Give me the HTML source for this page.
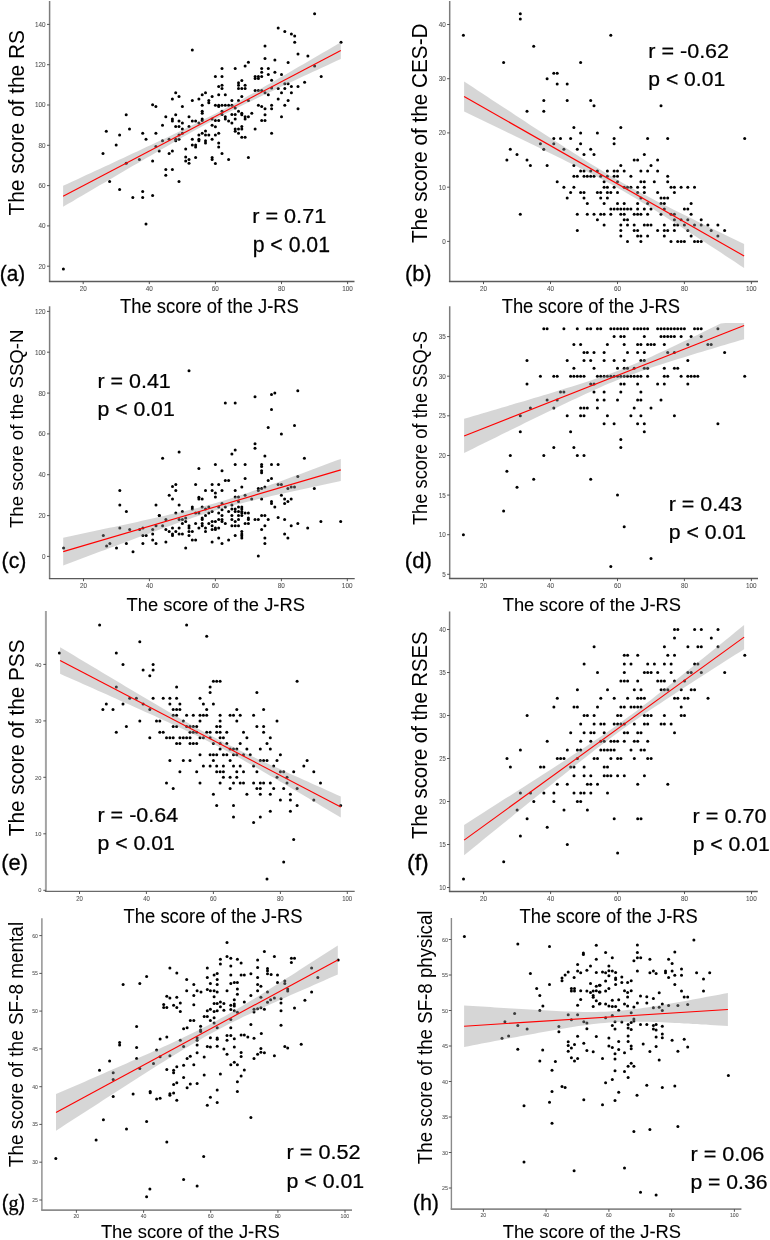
<!DOCTYPE html>
<html><head><meta charset="utf-8"><style>html,body{margin:0;padding:0;background:#fff;width:770px;height:1240px;overflow:hidden}svg{display:block;will-change:transform}</style></head>
<body><svg width="770" height="1240" viewBox="0 0 770 1240">
<rect width="770" height="1240" fill="#fff"/>
<g id="pa"><g fill="#000"><circle cx="192.3" cy="50.1" r="1.5"/><circle cx="175.7" cy="92.7" r="1.5"/><circle cx="179.0" cy="96.4" r="1.5"/><circle cx="172.4" cy="98.9" r="1.5"/><circle cx="192.3" cy="100.4" r="1.5"/><circle cx="198.9" cy="98.9" r="1.5"/><circle cx="152.6" cy="104.8" r="1.5"/><circle cx="155.9" cy="106.6" r="1.5"/><circle cx="182.4" cy="106.6" r="1.5"/><circle cx="314.6" cy="13.7" r="1.5"/><circle cx="278.2" cy="28.1" r="1.5"/><circle cx="284.8" cy="31.6" r="1.5"/><circle cx="291.4" cy="33.9" r="1.5"/><circle cx="294.7" cy="36.0" r="1.5"/><circle cx="294.7" cy="42.2" r="1.5"/><circle cx="341.0" cy="42.2" r="1.5"/><circle cx="265.0" cy="45.9" r="1.5"/><circle cx="298.0" cy="54.1" r="1.5"/><circle cx="307.9" cy="56.1" r="1.5"/><circle cx="265.0" cy="58.4" r="1.5"/><circle cx="274.9" cy="60.1" r="1.5"/><circle cx="288.1" cy="62.4" r="1.5"/><circle cx="248.4" cy="62.2" r="1.5"/><circle cx="245.1" cy="66.1" r="1.5"/><circle cx="314.6" cy="66.1" r="1.5"/><circle cx="222.0" cy="68.4" r="1.5"/><circle cx="235.2" cy="68.4" r="1.5"/><circle cx="261.7" cy="68.4" r="1.5"/><circle cx="268.3" cy="68.4" r="1.5"/><circle cx="261.7" cy="72.3" r="1.5"/><circle cx="274.9" cy="72.3" r="1.5"/><circle cx="268.3" cy="74.4" r="1.5"/><circle cx="281.5" cy="74.4" r="1.5"/><circle cx="215.4" cy="76.5" r="1.5"/><circle cx="222.0" cy="76.5" r="1.5"/><circle cx="255.1" cy="76.5" r="1.5"/><circle cx="258.4" cy="76.5" r="1.5"/><circle cx="261.7" cy="76.5" r="1.5"/><circle cx="255.1" cy="78.6" r="1.5"/><circle cx="258.4" cy="78.6" r="1.5"/><circle cx="321.2" cy="76.5" r="1.5"/><circle cx="271.6" cy="80.2" r="1.5"/><circle cx="241.8" cy="80.6" r="1.5"/><circle cx="238.5" cy="82.7" r="1.5"/><circle cx="238.5" cy="85.2" r="1.5"/><circle cx="245.1" cy="85.2" r="1.5"/><circle cx="222.0" cy="85.2" r="1.5"/><circle cx="218.7" cy="86.5" r="1.5"/><circle cx="238.5" cy="88.5" r="1.5"/><circle cx="241.8" cy="88.5" r="1.5"/><circle cx="245.1" cy="88.5" r="1.5"/><circle cx="222.0" cy="88.5" r="1.5"/><circle cx="304.6" cy="82.3" r="1.5"/><circle cx="284.8" cy="83.8" r="1.5"/><circle cx="288.1" cy="83.8" r="1.5"/><circle cx="291.4" cy="86.5" r="1.5"/><circle cx="298.0" cy="86.5" r="1.5"/><circle cx="255.1" cy="90.6" r="1.5"/><circle cx="261.7" cy="90.6" r="1.5"/><circle cx="258.4" cy="90.6" r="1.5"/><circle cx="271.6" cy="88.1" r="1.5"/><circle cx="278.2" cy="88.5" r="1.5"/><circle cx="284.8" cy="88.5" r="1.5"/><circle cx="265.0" cy="92.7" r="1.5"/><circle cx="268.3" cy="94.8" r="1.5"/><circle cx="281.5" cy="92.7" r="1.5"/><circle cx="291.4" cy="92.7" r="1.5"/><circle cx="205.5" cy="92.7" r="1.5"/><circle cx="202.2" cy="94.8" r="1.5"/><circle cx="212.1" cy="96.4" r="1.5"/><circle cx="218.7" cy="94.8" r="1.5"/><circle cx="225.3" cy="94.8" r="1.5"/><circle cx="241.8" cy="96.4" r="1.5"/><circle cx="248.4" cy="100.6" r="1.5"/><circle cx="238.5" cy="100.6" r="1.5"/><circle cx="231.9" cy="100.6" r="1.5"/><circle cx="208.8" cy="100.6" r="1.5"/><circle cx="208.8" cy="102.7" r="1.5"/><circle cx="278.2" cy="98.9" r="1.5"/><circle cx="288.1" cy="100.6" r="1.5"/><circle cx="202.2" cy="105.2" r="1.5"/><circle cx="215.4" cy="105.2" r="1.5"/><circle cx="218.7" cy="105.2" r="1.5"/><circle cx="222.0" cy="105.2" r="1.5"/><circle cx="225.3" cy="105.2" r="1.5"/><circle cx="228.6" cy="105.2" r="1.5"/><circle cx="231.9" cy="105.2" r="1.5"/><circle cx="258.4" cy="105.2" r="1.5"/><circle cx="261.7" cy="106.6" r="1.5"/><circle cx="271.6" cy="105.2" r="1.5"/><circle cx="284.8" cy="105.2" r="1.5"/><circle cx="235.2" cy="108.1" r="1.5"/><circle cx="265.0" cy="108.7" r="1.5"/><circle cx="271.6" cy="108.7" r="1.5"/><circle cx="298.0" cy="108.7" r="1.5"/><circle cx="218.7" cy="106.6" r="1.5"/><circle cx="126.2" cy="114.8" r="1.5"/><circle cx="106.3" cy="131.2" r="1.5"/><circle cx="119.6" cy="135.1" r="1.5"/><circle cx="129.5" cy="129.1" r="1.5"/><circle cx="116.2" cy="145.1" r="1.5"/><circle cx="103.0" cy="153.4" r="1.5"/><circle cx="142.7" cy="133.3" r="1.5"/><circle cx="146.0" cy="139.3" r="1.5"/><circle cx="155.9" cy="133.3" r="1.5"/><circle cx="162.5" cy="125.2" r="1.5"/><circle cx="165.8" cy="116.8" r="1.5"/><circle cx="172.4" cy="119.1" r="1.5"/><circle cx="172.4" cy="121.0" r="1.5"/><circle cx="175.7" cy="114.8" r="1.5"/><circle cx="179.0" cy="121.0" r="1.5"/><circle cx="182.4" cy="123.1" r="1.5"/><circle cx="175.7" cy="126.6" r="1.5"/><circle cx="179.0" cy="126.6" r="1.5"/><circle cx="182.4" cy="129.1" r="1.5"/><circle cx="189.0" cy="116.8" r="1.5"/><circle cx="192.3" cy="121.0" r="1.5"/><circle cx="195.6" cy="121.0" r="1.5"/><circle cx="198.9" cy="123.1" r="1.5"/><circle cx="189.0" cy="126.6" r="1.5"/><circle cx="182.4" cy="133.3" r="1.5"/><circle cx="179.0" cy="135.1" r="1.5"/><circle cx="175.7" cy="139.3" r="1.5"/><circle cx="175.7" cy="140.7" r="1.5"/><circle cx="179.0" cy="139.3" r="1.5"/><circle cx="169.1" cy="139.3" r="1.5"/><circle cx="162.5" cy="140.7" r="1.5"/><circle cx="155.9" cy="146.6" r="1.5"/><circle cx="159.2" cy="151.1" r="1.5"/><circle cx="169.1" cy="153.4" r="1.5"/><circle cx="172.4" cy="151.1" r="1.5"/><circle cx="185.7" cy="149.1" r="1.5"/><circle cx="192.3" cy="139.3" r="1.5"/><circle cx="192.3" cy="145.1" r="1.5"/><circle cx="195.6" cy="145.1" r="1.5"/><circle cx="195.6" cy="147.0" r="1.5"/><circle cx="198.9" cy="135.1" r="1.5"/><circle cx="198.9" cy="139.3" r="1.5"/><circle cx="198.9" cy="140.7" r="1.5"/><circle cx="185.7" cy="156.9" r="1.5"/><circle cx="185.7" cy="161.1" r="1.5"/><circle cx="189.0" cy="159.4" r="1.5"/><circle cx="189.0" cy="163.2" r="1.5"/><circle cx="195.6" cy="157.4" r="1.5"/><circle cx="152.6" cy="161.1" r="1.5"/><circle cx="139.4" cy="159.4" r="1.5"/><circle cx="126.2" cy="163.2" r="1.5"/><circle cx="165.8" cy="169.4" r="1.5"/><circle cx="172.4" cy="169.4" r="1.5"/><circle cx="165.8" cy="175.2" r="1.5"/><circle cx="179.0" cy="181.5" r="1.5"/><circle cx="109.6" cy="181.5" r="1.5"/><circle cx="119.6" cy="189.4" r="1.5"/><circle cx="142.7" cy="191.4" r="1.5"/><circle cx="142.7" cy="197.5" r="1.5"/><circle cx="132.8" cy="197.5" r="1.5"/><circle cx="152.6" cy="195.6" r="1.5"/><circle cx="202.2" cy="111.2" r="1.5"/><circle cx="202.2" cy="113.3" r="1.5"/><circle cx="202.2" cy="119.1" r="1.5"/><circle cx="202.2" cy="120.6" r="1.5"/><circle cx="212.1" cy="125.2" r="1.5"/><circle cx="215.4" cy="126.8" r="1.5"/><circle cx="205.5" cy="131.0" r="1.5"/><circle cx="202.2" cy="133.3" r="1.5"/><circle cx="208.8" cy="135.1" r="1.5"/><circle cx="205.5" cy="135.1" r="1.5"/><circle cx="205.5" cy="140.7" r="1.5"/><circle cx="205.5" cy="143.0" r="1.5"/><circle cx="212.1" cy="139.3" r="1.5"/><circle cx="218.7" cy="133.3" r="1.5"/><circle cx="215.4" cy="135.1" r="1.5"/><circle cx="212.1" cy="119.1" r="1.5"/><circle cx="215.4" cy="120.6" r="1.5"/><circle cx="218.7" cy="120.6" r="1.5"/><circle cx="222.0" cy="111.2" r="1.5"/><circle cx="222.0" cy="114.4" r="1.5"/><circle cx="225.3" cy="116.8" r="1.5"/><circle cx="225.3" cy="119.1" r="1.5"/><circle cx="228.6" cy="121.0" r="1.5"/><circle cx="231.9" cy="123.1" r="1.5"/><circle cx="231.9" cy="114.4" r="1.5"/><circle cx="235.2" cy="114.4" r="1.5"/><circle cx="235.2" cy="119.1" r="1.5"/><circle cx="238.5" cy="111.2" r="1.5"/><circle cx="241.8" cy="113.3" r="1.5"/><circle cx="241.8" cy="114.8" r="1.5"/><circle cx="245.1" cy="116.8" r="1.5"/><circle cx="245.1" cy="119.1" r="1.5"/><circle cx="248.4" cy="116.8" r="1.5"/><circle cx="251.8" cy="113.3" r="1.5"/><circle cx="235.2" cy="129.1" r="1.5"/><circle cx="235.2" cy="131.2" r="1.5"/><circle cx="238.5" cy="129.1" r="1.5"/><circle cx="238.5" cy="133.3" r="1.5"/><circle cx="241.8" cy="126.6" r="1.5"/><circle cx="241.8" cy="129.1" r="1.5"/><circle cx="241.8" cy="137.2" r="1.5"/><circle cx="245.1" cy="137.2" r="1.5"/><circle cx="255.1" cy="129.1" r="1.5"/><circle cx="261.7" cy="120.6" r="1.5"/><circle cx="265.0" cy="120.6" r="1.5"/><circle cx="265.0" cy="114.8" r="1.5"/><circle cx="271.6" cy="133.3" r="1.5"/><circle cx="281.5" cy="116.8" r="1.5"/><circle cx="218.7" cy="143.0" r="1.5"/><circle cx="218.7" cy="147.0" r="1.5"/><circle cx="222.0" cy="153.4" r="1.5"/><circle cx="212.1" cy="157.4" r="1.5"/><circle cx="212.1" cy="159.4" r="1.5"/><circle cx="215.4" cy="163.4" r="1.5"/><circle cx="228.6" cy="159.4" r="1.5"/><circle cx="248.4" cy="157.4" r="1.5"/><circle cx="146.0" cy="224.1" r="1.5"/><circle cx="63.4" cy="269.0" r="1.5"/></g><polygon points="63.1,185.8 67.7,183.7 72.4,181.5 77.0,179.4 81.6,177.2 86.2,175.1 90.9,173.0 95.5,170.8 100.1,168.7 104.8,166.5 109.4,164.4 114.0,162.2 118.6,160.1 123.3,157.9 127.9,155.8 132.5,153.6 137.2,151.4 141.8,149.3 146.4,147.1 151.0,144.9 155.7,142.8 160.3,140.6 164.9,138.4 169.6,136.2 174.2,134.0 178.8,131.8 183.4,129.5 188.1,127.3 192.7,125.0 197.3,122.8 201.9,120.5 206.6,118.1 211.2,115.8 215.8,113.4 220.5,111.0 225.1,108.5 229.7,106.0 234.3,103.5 239.0,101.0 243.6,98.4 248.2,95.8 252.9,93.2 257.5,90.6 262.1,88.0 266.7,85.3 271.4,82.7 276.0,80.0 280.6,77.3 285.3,74.7 289.9,72.0 294.5,69.3 299.1,66.6 303.8,63.9 308.4,61.2 313.0,58.5 317.7,55.8 322.3,53.1 326.9,50.4 331.5,47.7 336.2,45.0 340.8,42.3 340.8,58.9 336.2,61.1 331.5,63.2 326.9,65.4 322.3,67.5 317.7,69.7 313.0,71.8 308.4,74.0 303.8,76.1 299.1,78.3 294.5,80.5 289.9,82.6 285.3,84.8 280.6,87.0 276.0,89.2 271.4,91.4 266.7,93.6 262.1,95.8 257.5,98.0 252.9,100.2 248.2,102.5 243.6,104.8 239.0,107.1 234.3,109.4 229.7,111.7 225.1,114.1 220.5,116.5 215.8,118.9 211.2,121.4 206.6,123.9 201.9,126.4 197.3,129.0 192.7,131.6 188.1,134.2 183.4,136.8 178.8,139.4 174.2,142.0 169.6,144.7 164.9,147.4 160.3,150.0 155.7,152.7 151.0,155.4 146.4,158.1 141.8,160.8 137.2,163.4 132.5,166.1 127.9,168.8 123.3,171.5 118.6,174.2 114.0,177.0 109.4,179.7 104.8,182.4 100.1,185.1 95.5,187.8 90.9,190.5 86.2,193.2 81.6,195.9 77.0,198.6 72.4,201.4 67.7,204.1 63.1,206.8" fill="#999" fill-opacity="0.4"/><line x1="63.1" y1="196.3" x2="340.8" y2="50.6" stroke="#f00" stroke-width="1.1"/><path d="M49.6,1.0V281.5" fill="none" stroke="#7c7c7c" stroke-width="1.5"/><path d="M48.9,281.5H354.5" fill="none" stroke="#5a5a5a" stroke-width="1.4"/><path d="M47.0,266.2H49.6M47.0,225.9H49.6M47.0,185.6H49.6M47.0,145.3H49.6M47.0,105.0H49.6M47.0,64.7H49.6M47.0,24.4H49.6M83.2,281.5v2.6M149.3,281.5v2.6M215.4,281.5v2.6M281.5,281.5v2.6M347.6,281.5v2.6" stroke="#444" stroke-width="0.9"/><g font-family="Liberation Sans" font-size="100" fill="#525252" stroke="#525252" stroke-width="1"><text transform="translate(38.51,268.65) scale(0.0635,0.0690)">20</text><text transform="translate(38.51,228.35) scale(0.0635,0.0690)">40</text><text transform="translate(38.51,188.05) scale(0.0635,0.0690)">60</text><text transform="translate(38.51,147.75) scale(0.0635,0.0690)">80</text><text transform="translate(34.95,107.45) scale(0.0635,0.0690)">100</text><text transform="translate(34.95,67.15) scale(0.0635,0.0690)">120</text><text transform="translate(34.95,26.85) scale(0.0635,0.0690)">140</text><text transform="translate(79.64,291.05) scale(0.0635,0.0690)">20</text><text transform="translate(145.84,291.05) scale(0.0635,0.0690)">40</text><text transform="translate(211.84,291.05) scale(0.0635,0.0690)">60</text><text transform="translate(277.98,291.05) scale(0.0635,0.0690)">80</text><text transform="translate(342.17,291.05) scale(0.0635,0.0690)">100</text></g><text transform="translate(24.40,215.52) rotate(-90) scale(0.2087,0.2217)" font-family="Liberation Sans" font-size="100" fill="#000" stroke="#000" stroke-width="0.000">The score of the RS</text><text transform="translate(119.98,312.60) scale(0.1840,0.1942)" font-family="Liberation Sans" font-size="100" fill="#000" stroke="#000" stroke-width="0.529">The score of the J-RS</text><text transform="translate(252.21,222.90) scale(0.2165,0.2099)" font-family="Liberation Sans" font-size="100" fill="#000" stroke="#000" stroke-width="1.173">r = 0.71</text><text transform="translate(252.64,251.50) scale(0.2124,0.2141)" font-family="Liberation Sans" font-size="100" fill="#000" stroke="#000" stroke-width="1.172">p &lt; 0.01</text><text transform="translate(-0.25,281.18) scale(0.2082,0.2202)" font-family="Liberation Sans" font-size="100" fill="#000" stroke="#000" stroke-width="1.401">(a)</text></g><g id="pb"><g fill="#000"><circle cx="520.3" cy="13.7" r="1.5"/><circle cx="520.3" cy="19.1" r="1.5"/><circle cx="463.4" cy="35.3" r="1.5"/><circle cx="610.8" cy="35.3" r="1.5"/><circle cx="533.7" cy="46.2" r="1.5"/><circle cx="503.6" cy="62.5" r="1.5"/><circle cx="580.6" cy="62.5" r="1.5"/><circle cx="553.8" cy="73.3" r="1.5"/><circle cx="557.2" cy="73.3" r="1.5"/><circle cx="547.1" cy="78.7" r="1.5"/><circle cx="557.2" cy="84.1" r="1.5"/><circle cx="567.2" cy="84.1" r="1.5"/><circle cx="543.8" cy="100.4" r="1.5"/><circle cx="567.2" cy="100.4" r="1.5"/><circle cx="590.7" cy="100.4" r="1.5"/><circle cx="594.0" cy="105.8" r="1.5"/><circle cx="661.0" cy="105.8" r="1.5"/><circle cx="527.0" cy="111.3" r="1.5"/><circle cx="543.8" cy="111.3" r="1.5"/><circle cx="573.9" cy="127.5" r="1.5"/><circle cx="620.8" cy="127.5" r="1.5"/><circle cx="580.6" cy="132.9" r="1.5"/><circle cx="597.4" cy="132.9" r="1.5"/><circle cx="553.8" cy="138.4" r="1.5"/><circle cx="560.5" cy="138.4" r="1.5"/><circle cx="570.6" cy="138.4" r="1.5"/><circle cx="614.1" cy="138.4" r="1.5"/><circle cx="647.6" cy="138.4" r="1.5"/><circle cx="667.7" cy="138.4" r="1.5"/><circle cx="744.7" cy="138.4" r="1.5"/><circle cx="540.4" cy="143.8" r="1.5"/><circle cx="553.8" cy="143.8" r="1.5"/><circle cx="580.6" cy="143.8" r="1.5"/><circle cx="614.1" cy="143.8" r="1.5"/><circle cx="510.3" cy="149.2" r="1.5"/><circle cx="543.8" cy="149.2" r="1.5"/><circle cx="563.9" cy="149.2" r="1.5"/><circle cx="577.3" cy="149.2" r="1.5"/><circle cx="590.7" cy="149.2" r="1.5"/><circle cx="517.0" cy="154.6" r="1.5"/><circle cx="584.0" cy="154.6" r="1.5"/><circle cx="594.0" cy="154.6" r="1.5"/><circle cx="644.3" cy="154.6" r="1.5"/><circle cx="506.9" cy="160.1" r="1.5"/><circle cx="527.0" cy="160.1" r="1.5"/><circle cx="634.2" cy="160.1" r="1.5"/><circle cx="637.6" cy="160.1" r="1.5"/><circle cx="657.6" cy="160.1" r="1.5"/><circle cx="530.4" cy="165.5" r="1.5"/><circle cx="547.1" cy="165.5" r="1.5"/><circle cx="573.9" cy="165.5" r="1.5"/><circle cx="620.8" cy="165.5" r="1.5"/><circle cx="651.0" cy="165.5" r="1.5"/><circle cx="580.6" cy="170.9" r="1.5"/><circle cx="584.0" cy="170.9" r="1.5"/><circle cx="590.7" cy="170.9" r="1.5"/><circle cx="597.4" cy="170.9" r="1.5"/><circle cx="607.4" cy="170.9" r="1.5"/><circle cx="614.1" cy="170.9" r="1.5"/><circle cx="617.5" cy="170.9" r="1.5"/><circle cx="624.2" cy="170.9" r="1.5"/><circle cx="640.9" cy="170.9" r="1.5"/><circle cx="647.6" cy="170.9" r="1.5"/><circle cx="657.6" cy="170.9" r="1.5"/><circle cx="573.9" cy="176.3" r="1.5"/><circle cx="577.3" cy="176.3" r="1.5"/><circle cx="584.0" cy="176.3" r="1.5"/><circle cx="587.3" cy="176.3" r="1.5"/><circle cx="590.7" cy="176.3" r="1.5"/><circle cx="594.0" cy="176.3" r="1.5"/><circle cx="600.7" cy="176.3" r="1.5"/><circle cx="607.4" cy="176.3" r="1.5"/><circle cx="614.1" cy="176.3" r="1.5"/><circle cx="617.5" cy="176.3" r="1.5"/><circle cx="630.9" cy="176.3" r="1.5"/><circle cx="667.7" cy="176.3" r="1.5"/><circle cx="557.2" cy="181.8" r="1.5"/><circle cx="604.1" cy="181.8" r="1.5"/><circle cx="617.5" cy="181.8" r="1.5"/><circle cx="640.9" cy="181.8" r="1.5"/><circle cx="644.3" cy="181.8" r="1.5"/><circle cx="654.3" cy="181.8" r="1.5"/><circle cx="667.7" cy="181.8" r="1.5"/><circle cx="563.9" cy="187.2" r="1.5"/><circle cx="573.9" cy="187.2" r="1.5"/><circle cx="604.1" cy="187.2" r="1.5"/><circle cx="607.4" cy="187.2" r="1.5"/><circle cx="614.1" cy="187.2" r="1.5"/><circle cx="624.2" cy="187.2" r="1.5"/><circle cx="627.5" cy="187.2" r="1.5"/><circle cx="630.9" cy="187.2" r="1.5"/><circle cx="637.6" cy="187.2" r="1.5"/><circle cx="644.3" cy="187.2" r="1.5"/><circle cx="671.0" cy="187.2" r="1.5"/><circle cx="674.4" cy="187.2" r="1.5"/><circle cx="681.1" cy="187.2" r="1.5"/><circle cx="687.8" cy="187.2" r="1.5"/><circle cx="694.5" cy="187.2" r="1.5"/><circle cx="570.6" cy="192.6" r="1.5"/><circle cx="580.6" cy="192.6" r="1.5"/><circle cx="584.0" cy="192.6" r="1.5"/><circle cx="597.4" cy="192.6" r="1.5"/><circle cx="600.7" cy="192.6" r="1.5"/><circle cx="607.4" cy="192.6" r="1.5"/><circle cx="610.8" cy="192.6" r="1.5"/><circle cx="617.5" cy="192.6" r="1.5"/><circle cx="637.6" cy="192.6" r="1.5"/><circle cx="644.3" cy="192.6" r="1.5"/><circle cx="657.6" cy="192.6" r="1.5"/><circle cx="674.4" cy="192.6" r="1.5"/><circle cx="567.2" cy="198.0" r="1.5"/><circle cx="584.0" cy="198.0" r="1.5"/><circle cx="600.7" cy="198.0" r="1.5"/><circle cx="607.4" cy="198.0" r="1.5"/><circle cx="640.9" cy="198.0" r="1.5"/><circle cx="661.0" cy="198.0" r="1.5"/><circle cx="664.3" cy="198.0" r="1.5"/><circle cx="667.7" cy="198.0" r="1.5"/><circle cx="587.3" cy="203.4" r="1.5"/><circle cx="604.1" cy="203.4" r="1.5"/><circle cx="617.5" cy="203.4" r="1.5"/><circle cx="624.2" cy="203.4" r="1.5"/><circle cx="637.6" cy="203.4" r="1.5"/><circle cx="647.6" cy="203.4" r="1.5"/><circle cx="661.0" cy="203.4" r="1.5"/><circle cx="664.3" cy="203.4" r="1.5"/><circle cx="691.1" cy="203.4" r="1.5"/><circle cx="610.8" cy="208.9" r="1.5"/><circle cx="614.1" cy="208.9" r="1.5"/><circle cx="617.5" cy="208.9" r="1.5"/><circle cx="620.8" cy="208.9" r="1.5"/><circle cx="624.2" cy="208.9" r="1.5"/><circle cx="627.5" cy="208.9" r="1.5"/><circle cx="630.9" cy="208.9" r="1.5"/><circle cx="637.6" cy="208.9" r="1.5"/><circle cx="644.3" cy="208.9" r="1.5"/><circle cx="651.0" cy="208.9" r="1.5"/><circle cx="664.3" cy="208.9" r="1.5"/><circle cx="684.4" cy="208.9" r="1.5"/><circle cx="687.8" cy="208.9" r="1.5"/><circle cx="520.3" cy="214.3" r="1.5"/><circle cx="577.3" cy="214.3" r="1.5"/><circle cx="587.3" cy="214.3" r="1.5"/><circle cx="594.0" cy="214.3" r="1.5"/><circle cx="600.7" cy="214.3" r="1.5"/><circle cx="604.1" cy="214.3" r="1.5"/><circle cx="610.8" cy="214.3" r="1.5"/><circle cx="620.8" cy="214.3" r="1.5"/><circle cx="624.2" cy="214.3" r="1.5"/><circle cx="634.2" cy="214.3" r="1.5"/><circle cx="637.6" cy="214.3" r="1.5"/><circle cx="640.9" cy="214.3" r="1.5"/><circle cx="647.6" cy="214.3" r="1.5"/><circle cx="661.0" cy="214.3" r="1.5"/><circle cx="671.0" cy="214.3" r="1.5"/><circle cx="674.4" cy="214.3" r="1.5"/><circle cx="691.1" cy="214.3" r="1.5"/><circle cx="597.4" cy="219.7" r="1.5"/><circle cx="624.2" cy="219.7" r="1.5"/><circle cx="627.5" cy="219.7" r="1.5"/><circle cx="674.4" cy="219.7" r="1.5"/><circle cx="681.1" cy="219.7" r="1.5"/><circle cx="687.8" cy="219.7" r="1.5"/><circle cx="701.2" cy="219.7" r="1.5"/><circle cx="604.1" cy="225.1" r="1.5"/><circle cx="620.8" cy="225.1" r="1.5"/><circle cx="627.5" cy="225.1" r="1.5"/><circle cx="634.2" cy="225.1" r="1.5"/><circle cx="644.3" cy="225.1" r="1.5"/><circle cx="647.6" cy="225.1" r="1.5"/><circle cx="651.0" cy="225.1" r="1.5"/><circle cx="664.3" cy="225.1" r="1.5"/><circle cx="674.4" cy="225.1" r="1.5"/><circle cx="677.7" cy="225.1" r="1.5"/><circle cx="684.4" cy="225.1" r="1.5"/><circle cx="694.5" cy="225.1" r="1.5"/><circle cx="701.2" cy="225.1" r="1.5"/><circle cx="707.9" cy="225.1" r="1.5"/><circle cx="717.9" cy="225.1" r="1.5"/><circle cx="577.3" cy="230.6" r="1.5"/><circle cx="620.8" cy="230.6" r="1.5"/><circle cx="634.2" cy="230.6" r="1.5"/><circle cx="637.6" cy="230.6" r="1.5"/><circle cx="657.6" cy="230.6" r="1.5"/><circle cx="664.3" cy="230.6" r="1.5"/><circle cx="667.7" cy="230.6" r="1.5"/><circle cx="674.4" cy="230.6" r="1.5"/><circle cx="687.8" cy="230.6" r="1.5"/><circle cx="711.2" cy="230.6" r="1.5"/><circle cx="724.6" cy="230.6" r="1.5"/><circle cx="620.8" cy="236.0" r="1.5"/><circle cx="637.6" cy="236.0" r="1.5"/><circle cx="640.9" cy="236.0" r="1.5"/><circle cx="647.6" cy="236.0" r="1.5"/><circle cx="664.3" cy="236.0" r="1.5"/><circle cx="691.1" cy="236.0" r="1.5"/><circle cx="717.9" cy="236.0" r="1.5"/><circle cx="627.5" cy="241.4" r="1.5"/><circle cx="640.9" cy="241.4" r="1.5"/><circle cx="671.0" cy="241.4" r="1.5"/><circle cx="677.7" cy="241.4" r="1.5"/><circle cx="681.1" cy="241.4" r="1.5"/><circle cx="684.4" cy="241.4" r="1.5"/><circle cx="694.5" cy="241.4" r="1.5"/><circle cx="697.8" cy="241.4" r="1.5"/><circle cx="701.2" cy="241.4" r="1.5"/></g><polygon points="464.1,81.5 468.8,84.6 473.4,87.6 478.1,90.7 482.8,93.8 487.4,96.8 492.1,99.9 496.8,103.0 501.4,106.0 506.1,109.1 510.8,112.1 515.4,115.2 520.1,118.3 524.8,121.3 529.4,124.4 534.1,127.4 538.8,130.4 543.4,133.5 548.1,136.5 552.8,139.5 557.4,142.6 562.1,145.6 566.8,148.6 571.4,151.6 576.1,154.5 580.8,157.5 585.4,160.4 590.1,163.4 594.8,166.3 599.4,169.1 604.1,172.0 608.8,174.8 613.4,177.5 618.1,180.3 622.8,182.9 627.4,185.6 632.1,188.1 636.8,190.7 641.4,193.2 646.1,195.6 650.8,198.1 655.4,200.5 660.1,202.9 664.8,205.2 669.4,207.6 674.1,209.9 678.8,212.2 683.4,214.5 688.1,216.8 692.8,219.1 697.4,221.4 702.1,223.7 706.8,226.0 711.4,228.3 716.1,230.5 720.8,232.8 725.4,235.1 730.1,237.3 734.8,239.6 739.4,241.8 744.1,244.1 744.1,267.9 739.4,264.9 734.8,261.8 730.1,258.7 725.4,255.7 720.8,252.6 716.1,249.6 711.4,246.5 706.8,243.5 702.1,240.4 697.4,237.4 692.8,234.4 688.1,231.4 683.4,228.4 678.8,225.3 674.1,222.4 669.4,219.4 664.8,216.4 660.1,213.4 655.4,210.5 650.8,207.6 646.1,204.7 641.4,201.9 636.8,199.0 632.1,196.3 627.4,193.5 622.8,190.8 618.1,188.2 613.4,185.6 608.8,183.0 604.1,180.5 599.4,178.0 594.8,175.6 590.1,173.2 585.4,170.8 580.8,168.4 576.1,166.1 571.4,163.7 566.8,161.4 562.1,159.1 557.4,156.8 552.8,154.5 548.1,152.2 543.4,149.9 538.8,147.6 534.1,145.3 529.4,143.1 524.8,140.8 520.1,138.5 515.4,136.3 510.8,134.0 506.1,131.8 501.4,129.5 496.8,127.3 492.1,125.0 487.4,122.8 482.8,120.5 478.1,118.3 473.4,116.0 468.8,113.8 464.1,111.5" fill="#999" fill-opacity="0.4"/><line x1="464.1" y1="96.5" x2="744.1" y2="256.0" stroke="#f00" stroke-width="1.1"/><path d="M449.7,1.0V281.5" fill="none" stroke="#7c7c7c" stroke-width="1.5"/><path d="M448.9,281.5H758.0" fill="none" stroke="#5a5a5a" stroke-width="1.4"/><path d="M447.1,241.4H449.7M447.1,187.2H449.7M447.1,132.9H449.7M447.1,78.7H449.7M447.1,24.5H449.7M483.5,281.5v2.6M550.5,281.5v2.6M617.5,281.5v2.6M684.4,281.5v2.6M751.4,281.5v2.6" stroke="#444" stroke-width="0.9"/><g font-family="Liberation Sans" font-size="100" fill="#525252" stroke="#525252" stroke-width="1"><text transform="translate(442.30,243.85) scale(0.0635,0.0690)">0</text><text transform="translate(438.81,189.62) scale(0.0635,0.0690)">10</text><text transform="translate(438.81,135.40) scale(0.0635,0.0690)">20</text><text transform="translate(438.81,81.17) scale(0.0635,0.0690)">30</text><text transform="translate(438.81,26.95) scale(0.0635,0.0690)">40</text><text transform="translate(479.94,291.05) scale(0.0635,0.0690)">20</text><text transform="translate(547.02,291.05) scale(0.0635,0.0690)">40</text><text transform="translate(613.90,291.05) scale(0.0635,0.0690)">60</text><text transform="translate(680.92,291.05) scale(0.0635,0.0690)">80</text><text transform="translate(745.99,291.05) scale(0.0635,0.0690)">100</text></g><text transform="translate(426.80,243.11) rotate(-90) scale(0.2070,0.2145)" font-family="Liberation Sans" font-size="100" fill="#000" stroke="#000" stroke-width="0.000">The score of the CES-D</text><text transform="translate(501.68,312.60) scale(0.1836,0.1942)" font-family="Liberation Sans" font-size="100" fill="#000" stroke="#000" stroke-width="0.529">The score of the J-RS</text><text transform="translate(648.32,57.90) scale(0.2153,0.2099)" font-family="Liberation Sans" font-size="100" fill="#000" stroke="#000" stroke-width="1.176">r = -0.62</text><text transform="translate(648.35,86.10) scale(0.2109,0.2085)" font-family="Liberation Sans" font-size="100" fill="#000" stroke="#000" stroke-width="1.192">p &lt; 0.01</text><text transform="translate(404.89,281.14) scale(0.2182,0.2170)" font-family="Liberation Sans" font-size="100" fill="#000" stroke="#000" stroke-width="1.379">(b)</text></g><g id="pc"><g fill="#000"><circle cx="189.0" cy="370.7" r="1.5"/><circle cx="225.3" cy="402.9" r="1.5"/><circle cx="235.2" cy="402.9" r="1.5"/><circle cx="255.0" cy="396.7" r="1.5"/><circle cx="271.5" cy="394.6" r="1.5"/><circle cx="274.8" cy="393.1" r="1.5"/><circle cx="297.8" cy="390.8" r="1.5"/><circle cx="271.5" cy="409.5" r="1.5"/><circle cx="179.1" cy="452.0" r="1.5"/><circle cx="162.6" cy="458.2" r="1.5"/><circle cx="198.9" cy="468.6" r="1.5"/><circle cx="119.8" cy="490.6" r="1.5"/><circle cx="172.5" cy="486.5" r="1.5"/><circle cx="175.8" cy="484.4" r="1.5"/><circle cx="175.8" cy="490.6" r="1.5"/><circle cx="169.2" cy="495.2" r="1.5"/><circle cx="172.5" cy="498.9" r="1.5"/><circle cx="195.6" cy="484.4" r="1.5"/><circle cx="198.9" cy="497.3" r="1.5"/><circle cx="198.9" cy="498.9" r="1.5"/><circle cx="294.5" cy="425.6" r="1.5"/><circle cx="268.2" cy="427.5" r="1.5"/><circle cx="281.4" cy="434.1" r="1.5"/><circle cx="255.0" cy="443.7" r="1.5"/><circle cx="255.0" cy="448.2" r="1.5"/><circle cx="235.2" cy="449.9" r="1.5"/><circle cx="231.9" cy="454.1" r="1.5"/><circle cx="264.9" cy="456.1" r="1.5"/><circle cx="304.4" cy="458.2" r="1.5"/><circle cx="215.4" cy="464.4" r="1.5"/><circle cx="235.2" cy="464.4" r="1.5"/><circle cx="245.1" cy="464.4" r="1.5"/><circle cx="261.6" cy="464.4" r="1.5"/><circle cx="261.6" cy="466.5" r="1.5"/><circle cx="271.5" cy="464.4" r="1.5"/><circle cx="278.1" cy="464.4" r="1.5"/><circle cx="222.0" cy="470.7" r="1.5"/><circle cx="261.6" cy="470.7" r="1.5"/><circle cx="261.6" cy="472.8" r="1.5"/><circle cx="245.1" cy="478.6" r="1.5"/><circle cx="271.5" cy="478.6" r="1.5"/><circle cx="225.3" cy="480.6" r="1.5"/><circle cx="228.6" cy="480.6" r="1.5"/><circle cx="268.2" cy="480.6" r="1.5"/><circle cx="297.8" cy="476.5" r="1.5"/><circle cx="212.1" cy="484.4" r="1.5"/><circle cx="218.7" cy="484.4" r="1.5"/><circle cx="278.1" cy="484.4" r="1.5"/><circle cx="281.4" cy="484.4" r="1.5"/><circle cx="241.8" cy="486.9" r="1.5"/><circle cx="264.9" cy="486.9" r="1.5"/><circle cx="261.6" cy="488.5" r="1.5"/><circle cx="258.3" cy="488.5" r="1.5"/><circle cx="258.3" cy="490.6" r="1.5"/><circle cx="205.5" cy="490.6" r="1.5"/><circle cx="212.1" cy="490.6" r="1.5"/><circle cx="222.0" cy="490.6" r="1.5"/><circle cx="235.2" cy="490.6" r="1.5"/><circle cx="291.2" cy="486.9" r="1.5"/><circle cx="294.5" cy="486.9" r="1.5"/><circle cx="287.9" cy="488.5" r="1.5"/><circle cx="314.3" cy="488.5" r="1.5"/><circle cx="215.4" cy="493.1" r="1.5"/><circle cx="215.4" cy="496.9" r="1.5"/><circle cx="235.2" cy="496.9" r="1.5"/><circle cx="238.5" cy="496.9" r="1.5"/><circle cx="245.1" cy="495.2" r="1.5"/><circle cx="281.4" cy="495.2" r="1.5"/><circle cx="202.2" cy="498.9" r="1.5"/><circle cx="251.7" cy="498.9" r="1.5"/><circle cx="261.6" cy="498.9" r="1.5"/><circle cx="284.6" cy="498.9" r="1.5"/><circle cx="291.2" cy="498.9" r="1.5"/><circle cx="287.9" cy="501.4" r="1.5"/><circle cx="238.5" cy="501.4" r="1.5"/><circle cx="271.5" cy="501.4" r="1.5"/><circle cx="271.5" cy="503.5" r="1.5"/><circle cx="284.6" cy="503.5" r="1.5"/><circle cx="222.0" cy="503.5" r="1.5"/><circle cx="119.8" cy="505.0" r="1.5"/><circle cx="156.0" cy="505.0" r="1.5"/><circle cx="126.4" cy="511.4" r="1.5"/><circle cx="159.3" cy="515.4" r="1.5"/><circle cx="63.7" cy="548.1" r="1.5"/><circle cx="103.3" cy="535.4" r="1.5"/><circle cx="106.6" cy="546.0" r="1.5"/><circle cx="109.9" cy="543.6" r="1.5"/><circle cx="116.5" cy="548.1" r="1.5"/><circle cx="119.8" cy="527.9" r="1.5"/><circle cx="126.4" cy="543.6" r="1.5"/><circle cx="129.7" cy="529.6" r="1.5"/><circle cx="133.0" cy="551.7" r="1.5"/><circle cx="139.6" cy="529.6" r="1.5"/><circle cx="142.9" cy="527.9" r="1.5"/><circle cx="142.9" cy="535.4" r="1.5"/><circle cx="146.2" cy="535.4" r="1.5"/><circle cx="142.9" cy="543.6" r="1.5"/><circle cx="152.7" cy="529.6" r="1.5"/><circle cx="152.7" cy="533.9" r="1.5"/><circle cx="152.7" cy="540.0" r="1.5"/><circle cx="156.0" cy="525.7" r="1.5"/><circle cx="156.0" cy="543.6" r="1.5"/><circle cx="231.9" cy="505.0" r="1.5"/><circle cx="179.1" cy="505.0" r="1.5"/><circle cx="192.3" cy="506.9" r="1.5"/><circle cx="192.3" cy="508.9" r="1.5"/><circle cx="202.2" cy="506.9" r="1.5"/><circle cx="208.8" cy="506.9" r="1.5"/><circle cx="218.7" cy="506.9" r="1.5"/><circle cx="225.3" cy="506.9" r="1.5"/><circle cx="238.5" cy="506.9" r="1.5"/><circle cx="241.8" cy="506.9" r="1.5"/><circle cx="241.8" cy="508.9" r="1.5"/><circle cx="235.2" cy="508.9" r="1.5"/><circle cx="231.9" cy="508.9" r="1.5"/><circle cx="205.5" cy="508.9" r="1.5"/><circle cx="182.4" cy="511.4" r="1.5"/><circle cx="222.0" cy="509.7" r="1.5"/><circle cx="228.6" cy="511.4" r="1.5"/><circle cx="235.2" cy="511.4" r="1.5"/><circle cx="238.5" cy="511.4" r="1.5"/><circle cx="241.8" cy="511.4" r="1.5"/><circle cx="195.6" cy="513.1" r="1.5"/><circle cx="198.9" cy="513.1" r="1.5"/><circle cx="208.8" cy="513.1" r="1.5"/><circle cx="212.1" cy="511.4" r="1.5"/><circle cx="159.3" cy="515.4" r="1.5"/><circle cx="175.8" cy="513.1" r="1.5"/><circle cx="218.7" cy="513.1" r="1.5"/><circle cx="222.0" cy="515.4" r="1.5"/><circle cx="231.9" cy="515.4" r="1.5"/><circle cx="238.5" cy="515.4" r="1.5"/><circle cx="241.8" cy="513.1" r="1.5"/><circle cx="241.8" cy="515.4" r="1.5"/><circle cx="245.1" cy="513.1" r="1.5"/><circle cx="248.4" cy="513.1" r="1.5"/><circle cx="205.5" cy="515.4" r="1.5"/><circle cx="261.6" cy="515.4" r="1.5"/><circle cx="165.9" cy="519.6" r="1.5"/><circle cx="179.1" cy="519.6" r="1.5"/><circle cx="182.4" cy="519.6" r="1.5"/><circle cx="185.7" cy="517.9" r="1.5"/><circle cx="202.2" cy="517.9" r="1.5"/><circle cx="202.2" cy="519.6" r="1.5"/><circle cx="218.7" cy="519.6" r="1.5"/><circle cx="222.0" cy="519.6" r="1.5"/><circle cx="231.9" cy="519.6" r="1.5"/><circle cx="238.5" cy="519.6" r="1.5"/><circle cx="248.4" cy="517.9" r="1.5"/><circle cx="248.4" cy="519.6" r="1.5"/><circle cx="255.0" cy="519.6" r="1.5"/><circle cx="258.3" cy="519.6" r="1.5"/><circle cx="185.7" cy="521.4" r="1.5"/><circle cx="182.4" cy="523.6" r="1.5"/><circle cx="195.6" cy="523.6" r="1.5"/><circle cx="202.2" cy="523.6" r="1.5"/><circle cx="208.8" cy="523.6" r="1.5"/><circle cx="212.1" cy="521.4" r="1.5"/><circle cx="215.4" cy="521.4" r="1.5"/><circle cx="222.0" cy="521.4" r="1.5"/><circle cx="225.3" cy="523.6" r="1.5"/><circle cx="235.2" cy="521.4" r="1.5"/><circle cx="245.1" cy="523.6" r="1.5"/><circle cx="248.4" cy="523.6" r="1.5"/><circle cx="162.6" cy="525.7" r="1.5"/><circle cx="189.0" cy="525.7" r="1.5"/><circle cx="189.0" cy="527.9" r="1.5"/><circle cx="202.2" cy="525.7" r="1.5"/><circle cx="212.1" cy="525.7" r="1.5"/><circle cx="231.9" cy="525.7" r="1.5"/><circle cx="235.2" cy="525.7" r="1.5"/><circle cx="238.5" cy="525.7" r="1.5"/><circle cx="172.5" cy="527.9" r="1.5"/><circle cx="179.1" cy="527.9" r="1.5"/><circle cx="198.9" cy="527.9" r="1.5"/><circle cx="205.5" cy="527.9" r="1.5"/><circle cx="215.4" cy="527.9" r="1.5"/><circle cx="218.7" cy="527.9" r="1.5"/><circle cx="165.9" cy="529.6" r="1.5"/><circle cx="212.1" cy="529.6" r="1.5"/><circle cx="215.4" cy="529.6" r="1.5"/><circle cx="261.6" cy="529.6" r="1.5"/><circle cx="169.2" cy="531.4" r="1.5"/><circle cx="175.8" cy="531.4" r="1.5"/><circle cx="189.0" cy="531.4" r="1.5"/><circle cx="192.3" cy="531.4" r="1.5"/><circle cx="205.5" cy="531.4" r="1.5"/><circle cx="241.8" cy="531.4" r="1.5"/><circle cx="172.5" cy="533.9" r="1.5"/><circle cx="172.5" cy="535.4" r="1.5"/><circle cx="179.1" cy="533.9" r="1.5"/><circle cx="182.4" cy="533.9" r="1.5"/><circle cx="189.0" cy="535.4" r="1.5"/><circle cx="235.2" cy="535.4" r="1.5"/><circle cx="241.8" cy="533.9" r="1.5"/><circle cx="241.8" cy="535.7" r="1.5"/><circle cx="218.7" cy="537.9" r="1.5"/><circle cx="241.8" cy="537.9" r="1.5"/><circle cx="192.3" cy="540.0" r="1.5"/><circle cx="195.6" cy="540.0" r="1.5"/><circle cx="228.6" cy="540.0" r="1.5"/><circle cx="165.9" cy="542.1" r="1.5"/><circle cx="212.1" cy="542.1" r="1.5"/><circle cx="222.0" cy="543.6" r="1.5"/><circle cx="185.7" cy="548.1" r="1.5"/><circle cx="258.3" cy="556.1" r="1.5"/><circle cx="274.8" cy="507.1" r="1.5"/><circle cx="264.9" cy="515.4" r="1.5"/><circle cx="268.2" cy="519.6" r="1.5"/><circle cx="278.1" cy="517.4" r="1.5"/><circle cx="284.6" cy="519.6" r="1.5"/><circle cx="297.8" cy="523.6" r="1.5"/><circle cx="291.2" cy="525.7" r="1.5"/><circle cx="307.7" cy="527.9" r="1.5"/><circle cx="320.9" cy="521.4" r="1.5"/><circle cx="340.7" cy="521.4" r="1.5"/><circle cx="264.9" cy="525.7" r="1.5"/><circle cx="284.6" cy="533.9" r="1.5"/><circle cx="287.9" cy="537.9" r="1.5"/><circle cx="264.9" cy="537.9" r="1.5"/><circle cx="264.9" cy="543.6" r="1.5"/></g><polygon points="63.2,537.7 67.8,536.7 72.5,535.7 77.1,534.7 81.7,533.8 86.3,532.8 91.0,531.8 95.6,530.8 100.2,529.8 104.8,528.8 109.5,527.8 114.1,526.9 118.7,525.9 123.3,524.9 128.0,523.9 132.6,522.9 137.2,521.9 141.9,520.8 146.5,519.8 151.1,518.8 155.7,517.8 160.4,516.7 165.0,515.7 169.6,514.6 174.2,513.6 178.9,512.5 183.5,511.4 188.1,510.3 192.7,509.1 197.4,508.0 202.0,506.8 206.6,505.6 211.3,504.3 215.9,503.0 220.5,501.6 225.1,500.2 229.8,498.8 234.4,497.3 239.0,495.8 243.6,494.3 248.3,492.7 252.9,491.1 257.5,489.5 262.1,487.9 266.8,486.2 271.4,484.6 276.0,482.9 280.7,481.2 285.3,479.5 289.9,477.8 294.5,476.1 299.2,474.4 303.8,472.7 308.4,471.0 313.0,469.2 317.7,467.5 322.3,465.8 326.9,464.1 331.5,462.3 336.2,460.6 340.8,458.9 340.8,480.9 336.2,481.9 331.5,482.9 326.9,483.9 322.3,484.9 317.7,485.9 313.0,486.9 308.4,487.9 303.8,488.9 299.2,489.9 294.5,490.9 289.9,491.9 285.3,493.0 280.7,494.0 276.0,495.0 271.4,496.1 266.8,497.2 262.1,498.2 257.5,499.3 252.9,500.4 248.3,501.6 243.6,502.7 239.0,503.9 234.4,505.1 229.8,506.3 225.1,507.6 220.5,509.0 215.9,510.3 211.3,511.8 206.6,513.2 202.0,514.7 197.4,516.2 192.7,517.8 188.1,519.4 183.5,521.0 178.9,522.6 174.2,524.3 169.6,525.9 165.0,527.6 160.4,529.3 155.7,531.0 151.1,532.7 146.5,534.4 141.9,536.1 137.2,537.8 132.6,539.5 128.0,541.2 123.3,542.9 118.7,544.7 114.1,546.4 109.5,548.1 104.8,549.9 100.2,551.6 95.6,553.3 91.0,555.1 86.3,556.8 81.7,558.5 77.1,560.3 72.5,562.0 67.8,563.8 63.2,565.5" fill="#999" fill-opacity="0.4"/><line x1="63.2" y1="551.6" x2="340.8" y2="469.9" stroke="#f00" stroke-width="1.1"/><path d="M49.6,306.2V578.6" fill="none" stroke="#7c7c7c" stroke-width="1.5"/><path d="M48.9,578.6H354.7" fill="none" stroke="#5a5a5a" stroke-width="1.4"/><path d="M47.0,556.4H49.6M47.0,515.6H49.6M47.0,474.7H49.6M47.0,433.9H49.6M47.0,393.1H49.6M47.0,352.2H49.6M47.0,311.4H49.6M83.5,578.6v2.6M149.4,578.6v2.6M215.4,578.6v2.6M281.4,578.6v2.6M347.3,578.6v2.6" stroke="#444" stroke-width="0.9"/><g font-family="Liberation Sans" font-size="100" fill="#525252" stroke="#525252" stroke-width="1"><text transform="translate(42.00,558.85) scale(0.0635,0.0690)">0</text><text transform="translate(38.51,518.02) scale(0.0635,0.0690)">20</text><text transform="translate(38.51,477.18) scale(0.0635,0.0690)">40</text><text transform="translate(38.51,436.35) scale(0.0635,0.0690)">60</text><text transform="translate(38.51,395.51) scale(0.0635,0.0690)">80</text><text transform="translate(34.95,354.68) scale(0.0635,0.0690)">100</text><text transform="translate(34.95,313.85) scale(0.0635,0.0690)">120</text><text transform="translate(79.94,588.15) scale(0.0635,0.0690)">20</text><text transform="translate(145.99,588.15) scale(0.0635,0.0690)">40</text><text transform="translate(211.84,588.15) scale(0.0635,0.0690)">60</text><text transform="translate(277.83,588.15) scale(0.0635,0.0690)">80</text><text transform="translate(341.87,588.15) scale(0.0635,0.0690)">100</text></g><text transform="translate(23.10,528.07) rotate(-90) scale(0.1861,0.1913)" font-family="Liberation Sans" font-size="100" fill="#000" stroke="#000" stroke-width="0.000">The score of the SSQ-N</text><text transform="translate(126.58,610.60) scale(0.1835,0.1884)" font-family="Liberation Sans" font-size="100" fill="#000" stroke="#000" stroke-width="0.538">The score of the J-RS</text><text transform="translate(97.42,387.70) scale(0.2147,0.2056)" font-family="Liberation Sans" font-size="100" fill="#000" stroke="#000" stroke-width="1.190">r = 0.41</text><text transform="translate(97.44,415.60) scale(0.2124,0.2000)" font-family="Liberation Sans" font-size="100" fill="#000" stroke="#000" stroke-width="1.213">p &lt; 0.01</text><text transform="translate(1.62,567.95) scale(0.2125,0.2213)" font-family="Liberation Sans" font-size="100" fill="#000" stroke="#000" stroke-width="1.383">(c)</text></g><g id="pd"><g fill="#000"><circle cx="543.8" cy="328.7" r="1.5"/><circle cx="547.1" cy="328.7" r="1.5"/><circle cx="563.9" cy="328.7" r="1.5"/><circle cx="577.3" cy="328.7" r="1.5"/><circle cx="587.3" cy="328.7" r="1.5"/><circle cx="590.7" cy="328.7" r="1.5"/><circle cx="597.4" cy="328.7" r="1.5"/><circle cx="600.7" cy="328.7" r="1.5"/><circle cx="610.8" cy="328.7" r="1.5"/><circle cx="614.1" cy="328.7" r="1.5"/><circle cx="617.5" cy="328.7" r="1.5"/><circle cx="620.8" cy="328.7" r="1.5"/><circle cx="624.2" cy="328.7" r="1.5"/><circle cx="627.5" cy="328.7" r="1.5"/><circle cx="634.2" cy="328.7" r="1.5"/><circle cx="637.6" cy="328.7" r="1.5"/><circle cx="640.9" cy="328.7" r="1.5"/><circle cx="644.3" cy="328.7" r="1.5"/><circle cx="647.6" cy="328.7" r="1.5"/><circle cx="657.6" cy="328.7" r="1.5"/><circle cx="661.0" cy="328.7" r="1.5"/><circle cx="664.3" cy="328.7" r="1.5"/><circle cx="667.7" cy="328.7" r="1.5"/><circle cx="671.0" cy="328.7" r="1.5"/><circle cx="674.4" cy="328.7" r="1.5"/><circle cx="677.7" cy="328.7" r="1.5"/><circle cx="681.1" cy="328.7" r="1.5"/><circle cx="684.4" cy="328.7" r="1.5"/><circle cx="694.5" cy="328.7" r="1.5"/><circle cx="697.8" cy="328.7" r="1.5"/><circle cx="701.2" cy="328.7" r="1.5"/><circle cx="717.9" cy="328.7" r="1.5"/><circle cx="614.1" cy="336.6" r="1.5"/><circle cx="620.8" cy="336.6" r="1.5"/><circle cx="624.2" cy="336.6" r="1.5"/><circle cx="644.3" cy="336.6" r="1.5"/><circle cx="661.0" cy="336.6" r="1.5"/><circle cx="664.3" cy="336.6" r="1.5"/><circle cx="667.7" cy="336.6" r="1.5"/><circle cx="671.0" cy="336.6" r="1.5"/><circle cx="674.4" cy="336.6" r="1.5"/><circle cx="681.1" cy="336.6" r="1.5"/><circle cx="691.1" cy="336.6" r="1.5"/><circle cx="701.2" cy="336.6" r="1.5"/><circle cx="573.9" cy="344.5" r="1.5"/><circle cx="580.6" cy="344.5" r="1.5"/><circle cx="607.4" cy="344.5" r="1.5"/><circle cx="624.2" cy="344.5" r="1.5"/><circle cx="637.6" cy="344.5" r="1.5"/><circle cx="640.9" cy="344.5" r="1.5"/><circle cx="647.6" cy="344.5" r="1.5"/><circle cx="651.0" cy="344.5" r="1.5"/><circle cx="654.3" cy="344.5" r="1.5"/><circle cx="664.3" cy="344.5" r="1.5"/><circle cx="687.8" cy="344.5" r="1.5"/><circle cx="707.9" cy="344.5" r="1.5"/><circle cx="711.2" cy="344.5" r="1.5"/><circle cx="584.0" cy="352.4" r="1.5"/><circle cx="587.3" cy="352.4" r="1.5"/><circle cx="594.0" cy="352.4" r="1.5"/><circle cx="604.1" cy="352.4" r="1.5"/><circle cx="627.5" cy="352.4" r="1.5"/><circle cx="637.6" cy="352.4" r="1.5"/><circle cx="644.3" cy="352.4" r="1.5"/><circle cx="667.7" cy="352.4" r="1.5"/><circle cx="674.4" cy="352.4" r="1.5"/><circle cx="724.6" cy="352.4" r="1.5"/><circle cx="527.0" cy="360.4" r="1.5"/><circle cx="567.2" cy="360.4" r="1.5"/><circle cx="584.0" cy="360.4" r="1.5"/><circle cx="590.7" cy="360.4" r="1.5"/><circle cx="604.1" cy="360.4" r="1.5"/><circle cx="614.1" cy="360.4" r="1.5"/><circle cx="624.2" cy="360.4" r="1.5"/><circle cx="640.9" cy="360.4" r="1.5"/><circle cx="644.3" cy="360.4" r="1.5"/><circle cx="687.8" cy="360.4" r="1.5"/><circle cx="573.9" cy="368.3" r="1.5"/><circle cx="594.0" cy="368.3" r="1.5"/><circle cx="617.5" cy="368.3" r="1.5"/><circle cx="624.2" cy="368.3" r="1.5"/><circle cx="627.5" cy="368.3" r="1.5"/><circle cx="634.2" cy="368.3" r="1.5"/><circle cx="644.3" cy="368.3" r="1.5"/><circle cx="647.6" cy="368.3" r="1.5"/><circle cx="664.3" cy="368.3" r="1.5"/><circle cx="674.4" cy="368.3" r="1.5"/><circle cx="677.7" cy="368.3" r="1.5"/><circle cx="540.4" cy="376.2" r="1.5"/><circle cx="553.8" cy="376.2" r="1.5"/><circle cx="557.2" cy="376.2" r="1.5"/><circle cx="570.6" cy="376.2" r="1.5"/><circle cx="573.9" cy="376.2" r="1.5"/><circle cx="577.3" cy="376.2" r="1.5"/><circle cx="580.6" cy="376.2" r="1.5"/><circle cx="584.0" cy="376.2" r="1.5"/><circle cx="597.4" cy="376.2" r="1.5"/><circle cx="600.7" cy="376.2" r="1.5"/><circle cx="604.1" cy="376.2" r="1.5"/><circle cx="607.4" cy="376.2" r="1.5"/><circle cx="610.8" cy="376.2" r="1.5"/><circle cx="614.1" cy="376.2" r="1.5"/><circle cx="617.5" cy="376.2" r="1.5"/><circle cx="620.8" cy="376.2" r="1.5"/><circle cx="624.2" cy="376.2" r="1.5"/><circle cx="627.5" cy="376.2" r="1.5"/><circle cx="630.9" cy="376.2" r="1.5"/><circle cx="634.2" cy="376.2" r="1.5"/><circle cx="637.6" cy="376.2" r="1.5"/><circle cx="640.9" cy="376.2" r="1.5"/><circle cx="647.6" cy="376.2" r="1.5"/><circle cx="664.3" cy="376.2" r="1.5"/><circle cx="667.7" cy="376.2" r="1.5"/><circle cx="681.1" cy="376.2" r="1.5"/><circle cx="687.8" cy="376.2" r="1.5"/><circle cx="691.1" cy="376.2" r="1.5"/><circle cx="694.5" cy="376.2" r="1.5"/><circle cx="697.8" cy="376.2" r="1.5"/><circle cx="744.7" cy="376.2" r="1.5"/><circle cx="527.0" cy="384.1" r="1.5"/><circle cx="590.7" cy="384.1" r="1.5"/><circle cx="594.0" cy="384.1" r="1.5"/><circle cx="620.8" cy="384.1" r="1.5"/><circle cx="624.2" cy="384.1" r="1.5"/><circle cx="637.6" cy="384.1" r="1.5"/><circle cx="657.6" cy="384.1" r="1.5"/><circle cx="664.3" cy="384.1" r="1.5"/><circle cx="687.8" cy="384.1" r="1.5"/><circle cx="560.5" cy="392.1" r="1.5"/><circle cx="563.9" cy="392.1" r="1.5"/><circle cx="594.0" cy="392.1" r="1.5"/><circle cx="604.1" cy="392.1" r="1.5"/><circle cx="620.8" cy="392.1" r="1.5"/><circle cx="640.9" cy="392.1" r="1.5"/><circle cx="547.1" cy="400.0" r="1.5"/><circle cx="557.2" cy="400.0" r="1.5"/><circle cx="597.4" cy="400.0" r="1.5"/><circle cx="604.1" cy="400.0" r="1.5"/><circle cx="617.5" cy="400.0" r="1.5"/><circle cx="637.6" cy="400.0" r="1.5"/><circle cx="640.9" cy="400.0" r="1.5"/><circle cx="661.0" cy="400.0" r="1.5"/><circle cx="530.4" cy="407.9" r="1.5"/><circle cx="553.8" cy="407.9" r="1.5"/><circle cx="580.6" cy="407.9" r="1.5"/><circle cx="584.0" cy="407.9" r="1.5"/><circle cx="587.3" cy="407.9" r="1.5"/><circle cx="597.4" cy="407.9" r="1.5"/><circle cx="634.2" cy="407.9" r="1.5"/><circle cx="651.0" cy="407.9" r="1.5"/><circle cx="520.3" cy="415.8" r="1.5"/><circle cx="567.2" cy="415.8" r="1.5"/><circle cx="580.6" cy="415.8" r="1.5"/><circle cx="584.0" cy="415.8" r="1.5"/><circle cx="607.4" cy="415.8" r="1.5"/><circle cx="630.9" cy="415.8" r="1.5"/><circle cx="640.9" cy="415.8" r="1.5"/><circle cx="674.4" cy="415.8" r="1.5"/><circle cx="604.1" cy="423.8" r="1.5"/><circle cx="614.1" cy="423.8" r="1.5"/><circle cx="637.6" cy="423.8" r="1.5"/><circle cx="644.3" cy="423.8" r="1.5"/><circle cx="717.9" cy="423.8" r="1.5"/><circle cx="520.3" cy="431.7" r="1.5"/><circle cx="570.6" cy="431.7" r="1.5"/><circle cx="644.3" cy="431.7" r="1.5"/><circle cx="620.8" cy="439.6" r="1.5"/><circle cx="553.8" cy="447.5" r="1.5"/><circle cx="573.9" cy="447.5" r="1.5"/><circle cx="620.8" cy="447.5" r="1.5"/><circle cx="510.3" cy="455.5" r="1.5"/><circle cx="543.8" cy="455.5" r="1.5"/><circle cx="577.3" cy="455.5" r="1.5"/><circle cx="584.0" cy="455.5" r="1.5"/><circle cx="506.9" cy="471.3" r="1.5"/><circle cx="533.7" cy="479.2" r="1.5"/><circle cx="590.7" cy="479.2" r="1.5"/><circle cx="517.0" cy="487.2" r="1.5"/><circle cx="617.5" cy="495.1" r="1.5"/><circle cx="503.6" cy="510.9" r="1.5"/><circle cx="624.2" cy="526.8" r="1.5"/><circle cx="463.4" cy="534.7" r="1.5"/><circle cx="651.0" cy="558.5" r="1.5"/><circle cx="610.8" cy="566.4" r="1.5"/></g><polygon points="464.1,418.8 468.8,417.4 473.4,416.0 478.1,414.7 482.8,413.3 487.4,411.9 492.1,410.5 496.8,409.2 501.4,407.8 506.1,406.4 510.8,405.0 515.4,403.6 520.1,402.3 524.8,400.9 529.4,399.5 534.1,398.1 538.8,396.7 543.4,395.3 548.1,393.9 552.8,392.4 557.4,391.0 562.1,389.6 566.8,388.1 571.4,386.7 576.1,385.2 580.8,383.7 585.4,382.2 590.1,380.7 594.8,379.1 599.4,377.5 604.1,375.9 608.8,374.2 613.4,372.5 618.1,370.7 622.8,368.9 627.4,367.0 632.1,365.1 636.8,363.1 641.4,361.1 646.1,359.0 650.8,356.9 655.4,354.8 660.1,352.6 664.8,350.5 669.4,348.3 674.1,346.1 678.8,343.8 683.4,341.6 688.1,339.4 692.8,337.1 697.4,334.9 702.1,332.6 706.8,330.3 711.4,328.0 716.1,325.8 720.8,323.5 725.4,323.0 730.1,323.0 734.8,323.0 739.4,323.0 744.1,323.0 744.1,339.2 739.4,340.6 734.8,342.0 730.1,343.3 725.4,344.7 720.8,346.1 716.1,347.5 711.4,348.9 706.8,350.3 702.1,351.7 697.4,353.1 692.8,354.5 688.1,356.0 683.4,357.4 678.8,358.8 674.1,360.3 669.4,361.7 664.8,363.2 660.1,364.7 655.4,366.3 650.8,367.8 646.1,369.4 641.4,371.0 636.8,372.7 632.1,374.4 627.4,376.1 622.8,377.9 618.1,379.8 613.4,381.7 608.8,383.6 604.1,385.6 599.4,387.7 594.8,389.8 590.1,391.9 585.4,394.0 580.8,396.2 576.1,398.4 571.4,400.6 566.8,402.8 562.1,405.0 557.4,407.3 552.8,409.5 548.1,411.8 543.4,414.0 538.8,416.3 534.1,418.6 529.4,420.8 524.8,423.1 520.1,425.4 515.4,427.7 510.8,430.0 506.1,432.3 501.4,434.6 496.8,436.9 492.1,439.2 487.4,441.5 482.8,443.8 478.1,446.1 473.4,448.4 468.8,450.7 464.1,453.0" fill="#999" fill-opacity="0.4"/><line x1="464.1" y1="435.9" x2="744.1" y2="325.6" stroke="#f00" stroke-width="1.1"/><path d="M449.7,306.2V578.5" fill="none" stroke="#7c7c7c" stroke-width="1.5"/><path d="M448.9,578.5H758.0" fill="none" stroke="#5a5a5a" stroke-width="1.4"/><path d="M447.1,574.3H449.7M447.1,534.7H449.7M447.1,495.1H449.7M447.1,455.5H449.7M447.1,415.8H449.7M447.1,376.2H449.7M447.1,336.6H449.7M483.5,578.5v2.6M550.5,578.5v2.6M617.5,578.5v2.6M684.4,578.5v2.6M751.4,578.5v2.6" stroke="#444" stroke-width="0.9"/><g font-family="Liberation Sans" font-size="100" fill="#525252" stroke="#525252" stroke-width="1"><text transform="translate(442.36,576.77) scale(0.0635,0.0690)">5</text><text transform="translate(438.81,537.15) scale(0.0635,0.0690)">10</text><text transform="translate(438.81,497.53) scale(0.0635,0.0690)">15</text><text transform="translate(438.81,457.91) scale(0.0635,0.0690)">20</text><text transform="translate(438.81,418.29) scale(0.0635,0.0690)">25</text><text transform="translate(438.81,378.67) scale(0.0635,0.0690)">30</text><text transform="translate(438.81,339.05) scale(0.0635,0.0690)">35</text><text transform="translate(479.94,588.15) scale(0.0635,0.0690)">20</text><text transform="translate(547.02,588.15) scale(0.0635,0.0690)">40</text><text transform="translate(613.90,588.15) scale(0.0635,0.0690)">60</text><text transform="translate(680.92,588.15) scale(0.0635,0.0690)">80</text><text transform="translate(745.99,588.15) scale(0.0635,0.0690)">100</text></g><text transform="translate(426.60,525.07) rotate(-90) scale(0.1829,0.1942)" font-family="Liberation Sans" font-size="100" fill="#000" stroke="#000" stroke-width="0.000">The score of the SSQ-S</text><text transform="translate(502.68,610.60) scale(0.1834,0.1855)" font-family="Liberation Sans" font-size="100" fill="#000" stroke="#000" stroke-width="0.542">The score of the J-RS</text><text transform="translate(668.72,510.80) scale(0.2147,0.1944)" font-family="Liberation Sans" font-size="100" fill="#000" stroke="#000" stroke-width="1.222">r = 0.43</text><text transform="translate(668.74,539.20) scale(0.2124,0.2056)" font-family="Liberation Sans" font-size="100" fill="#000" stroke="#000" stroke-width="1.196">p &lt; 0.01</text><text transform="translate(404.87,567.95) scale(0.2209,0.2213)" font-family="Liberation Sans" font-size="100" fill="#000" stroke="#000" stroke-width="1.357">(d)</text></g><g id="pe"><g fill="#000"><circle cx="99.6" cy="624.9" r="1.5"/><circle cx="186.6" cy="624.9" r="1.5"/><circle cx="206.7" cy="636.2" r="1.5"/><circle cx="139.8" cy="641.8" r="1.5"/><circle cx="59.4" cy="653.1" r="1.5"/><circle cx="116.3" cy="653.1" r="1.5"/><circle cx="123.0" cy="664.4" r="1.5"/><circle cx="153.1" cy="664.4" r="1.5"/><circle cx="143.1" cy="670.0" r="1.5"/><circle cx="153.1" cy="670.0" r="1.5"/><circle cx="149.8" cy="675.7" r="1.5"/><circle cx="213.4" cy="681.3" r="1.5"/><circle cx="216.7" cy="681.3" r="1.5"/><circle cx="220.1" cy="681.3" r="1.5"/><circle cx="297.1" cy="681.3" r="1.5"/><circle cx="116.3" cy="687.0" r="1.5"/><circle cx="176.6" cy="687.0" r="1.5"/><circle cx="210.1" cy="687.0" r="1.5"/><circle cx="210.1" cy="692.6" r="1.5"/><circle cx="256.9" cy="692.6" r="1.5"/><circle cx="129.7" cy="698.3" r="1.5"/><circle cx="136.4" cy="698.3" r="1.5"/><circle cx="153.1" cy="698.3" r="1.5"/><circle cx="163.2" cy="698.3" r="1.5"/><circle cx="169.9" cy="698.3" r="1.5"/><circle cx="176.6" cy="698.3" r="1.5"/><circle cx="200.0" cy="698.3" r="1.5"/><circle cx="106.3" cy="703.9" r="1.5"/><circle cx="123.0" cy="703.9" r="1.5"/><circle cx="143.1" cy="703.9" r="1.5"/><circle cx="169.9" cy="703.9" r="1.5"/><circle cx="179.9" cy="703.9" r="1.5"/><circle cx="203.4" cy="703.9" r="1.5"/><circle cx="213.4" cy="703.9" r="1.5"/><circle cx="102.9" cy="709.6" r="1.5"/><circle cx="113.0" cy="709.6" r="1.5"/><circle cx="149.8" cy="709.6" r="1.5"/><circle cx="173.2" cy="709.6" r="1.5"/><circle cx="176.6" cy="709.6" r="1.5"/><circle cx="179.9" cy="709.6" r="1.5"/><circle cx="206.7" cy="709.6" r="1.5"/><circle cx="236.8" cy="709.6" r="1.5"/><circle cx="263.6" cy="709.6" r="1.5"/><circle cx="173.2" cy="715.2" r="1.5"/><circle cx="176.6" cy="715.2" r="1.5"/><circle cx="186.6" cy="715.2" r="1.5"/><circle cx="193.3" cy="715.2" r="1.5"/><circle cx="200.0" cy="715.2" r="1.5"/><circle cx="203.4" cy="715.2" r="1.5"/><circle cx="206.7" cy="715.2" r="1.5"/><circle cx="220.1" cy="715.2" r="1.5"/><circle cx="230.1" cy="715.2" r="1.5"/><circle cx="233.5" cy="715.2" r="1.5"/><circle cx="240.2" cy="715.2" r="1.5"/><circle cx="253.6" cy="715.2" r="1.5"/><circle cx="139.8" cy="720.9" r="1.5"/><circle cx="156.5" cy="720.9" r="1.5"/><circle cx="159.8" cy="720.9" r="1.5"/><circle cx="183.3" cy="720.9" r="1.5"/><circle cx="200.0" cy="720.9" r="1.5"/><circle cx="220.1" cy="720.9" r="1.5"/><circle cx="236.8" cy="720.9" r="1.5"/><circle cx="277.0" cy="720.9" r="1.5"/><circle cx="126.4" cy="726.5" r="1.5"/><circle cx="173.2" cy="726.5" r="1.5"/><circle cx="176.6" cy="726.5" r="1.5"/><circle cx="186.6" cy="726.5" r="1.5"/><circle cx="190.0" cy="726.5" r="1.5"/><circle cx="193.3" cy="726.5" r="1.5"/><circle cx="196.7" cy="726.5" r="1.5"/><circle cx="216.7" cy="726.5" r="1.5"/><circle cx="220.1" cy="726.5" r="1.5"/><circle cx="256.9" cy="726.5" r="1.5"/><circle cx="263.6" cy="726.5" r="1.5"/><circle cx="116.3" cy="732.2" r="1.5"/><circle cx="159.8" cy="732.2" r="1.5"/><circle cx="163.2" cy="732.2" r="1.5"/><circle cx="190.0" cy="732.2" r="1.5"/><circle cx="193.3" cy="732.2" r="1.5"/><circle cx="196.7" cy="732.2" r="1.5"/><circle cx="206.7" cy="732.2" r="1.5"/><circle cx="210.1" cy="732.2" r="1.5"/><circle cx="216.7" cy="732.2" r="1.5"/><circle cx="220.1" cy="732.2" r="1.5"/><circle cx="226.8" cy="732.2" r="1.5"/><circle cx="243.5" cy="732.2" r="1.5"/><circle cx="263.6" cy="732.2" r="1.5"/><circle cx="149.8" cy="737.8" r="1.5"/><circle cx="166.5" cy="737.8" r="1.5"/><circle cx="169.9" cy="737.8" r="1.5"/><circle cx="173.2" cy="737.8" r="1.5"/><circle cx="179.9" cy="737.8" r="1.5"/><circle cx="183.3" cy="737.8" r="1.5"/><circle cx="186.6" cy="737.8" r="1.5"/><circle cx="190.0" cy="737.8" r="1.5"/><circle cx="200.0" cy="737.8" r="1.5"/><circle cx="203.4" cy="737.8" r="1.5"/><circle cx="210.1" cy="737.8" r="1.5"/><circle cx="220.1" cy="737.8" r="1.5"/><circle cx="223.4" cy="737.8" r="1.5"/><circle cx="246.9" cy="737.8" r="1.5"/><circle cx="270.3" cy="737.8" r="1.5"/><circle cx="176.6" cy="743.5" r="1.5"/><circle cx="179.9" cy="743.5" r="1.5"/><circle cx="190.0" cy="743.5" r="1.5"/><circle cx="193.3" cy="743.5" r="1.5"/><circle cx="196.7" cy="743.5" r="1.5"/><circle cx="213.4" cy="743.5" r="1.5"/><circle cx="220.1" cy="743.5" r="1.5"/><circle cx="226.8" cy="743.5" r="1.5"/><circle cx="240.2" cy="743.5" r="1.5"/><circle cx="267.0" cy="743.5" r="1.5"/><circle cx="220.1" cy="749.1" r="1.5"/><circle cx="230.1" cy="749.1" r="1.5"/><circle cx="233.5" cy="749.1" r="1.5"/><circle cx="236.8" cy="749.1" r="1.5"/><circle cx="246.9" cy="749.1" r="1.5"/><circle cx="260.3" cy="749.1" r="1.5"/><circle cx="270.3" cy="749.1" r="1.5"/><circle cx="200.0" cy="754.8" r="1.5"/><circle cx="210.1" cy="754.8" r="1.5"/><circle cx="213.4" cy="754.8" r="1.5"/><circle cx="216.7" cy="754.8" r="1.5"/><circle cx="223.4" cy="754.8" r="1.5"/><circle cx="226.8" cy="754.8" r="1.5"/><circle cx="233.5" cy="754.8" r="1.5"/><circle cx="236.8" cy="754.8" r="1.5"/><circle cx="243.5" cy="754.8" r="1.5"/><circle cx="250.2" cy="754.8" r="1.5"/><circle cx="280.4" cy="754.8" r="1.5"/><circle cx="169.9" cy="760.4" r="1.5"/><circle cx="183.3" cy="760.4" r="1.5"/><circle cx="190.0" cy="760.4" r="1.5"/><circle cx="213.4" cy="760.4" r="1.5"/><circle cx="230.1" cy="760.4" r="1.5"/><circle cx="260.3" cy="760.4" r="1.5"/><circle cx="263.6" cy="760.4" r="1.5"/><circle cx="267.0" cy="760.4" r="1.5"/><circle cx="277.0" cy="760.4" r="1.5"/><circle cx="307.1" cy="760.4" r="1.5"/><circle cx="203.4" cy="766.0" r="1.5"/><circle cx="210.1" cy="766.0" r="1.5"/><circle cx="216.7" cy="766.0" r="1.5"/><circle cx="223.4" cy="766.0" r="1.5"/><circle cx="233.5" cy="766.0" r="1.5"/><circle cx="240.2" cy="766.0" r="1.5"/><circle cx="253.6" cy="766.0" r="1.5"/><circle cx="273.7" cy="766.0" r="1.5"/><circle cx="303.8" cy="766.0" r="1.5"/><circle cx="179.9" cy="771.7" r="1.5"/><circle cx="196.7" cy="771.7" r="1.5"/><circle cx="216.7" cy="771.7" r="1.5"/><circle cx="220.1" cy="771.7" r="1.5"/><circle cx="223.4" cy="771.7" r="1.5"/><circle cx="236.8" cy="771.7" r="1.5"/><circle cx="243.5" cy="771.7" r="1.5"/><circle cx="256.9" cy="771.7" r="1.5"/><circle cx="280.4" cy="771.7" r="1.5"/><circle cx="283.7" cy="771.7" r="1.5"/><circle cx="293.7" cy="771.7" r="1.5"/><circle cx="313.8" cy="771.7" r="1.5"/><circle cx="223.4" cy="777.3" r="1.5"/><circle cx="230.1" cy="777.3" r="1.5"/><circle cx="236.8" cy="777.3" r="1.5"/><circle cx="277.0" cy="777.3" r="1.5"/><circle cx="287.0" cy="777.3" r="1.5"/><circle cx="166.5" cy="783.0" r="1.5"/><circle cx="200.0" cy="783.0" r="1.5"/><circle cx="220.1" cy="783.0" r="1.5"/><circle cx="233.5" cy="783.0" r="1.5"/><circle cx="240.2" cy="783.0" r="1.5"/><circle cx="243.5" cy="783.0" r="1.5"/><circle cx="253.6" cy="783.0" r="1.5"/><circle cx="260.3" cy="783.0" r="1.5"/><circle cx="263.6" cy="783.0" r="1.5"/><circle cx="270.3" cy="783.0" r="1.5"/><circle cx="287.0" cy="783.0" r="1.5"/><circle cx="320.5" cy="783.0" r="1.5"/><circle cx="173.2" cy="788.6" r="1.5"/><circle cx="230.1" cy="788.6" r="1.5"/><circle cx="256.9" cy="788.6" r="1.5"/><circle cx="260.3" cy="788.6" r="1.5"/><circle cx="273.7" cy="788.6" r="1.5"/><circle cx="283.7" cy="788.6" r="1.5"/><circle cx="297.1" cy="788.6" r="1.5"/><circle cx="213.4" cy="794.3" r="1.5"/><circle cx="246.9" cy="794.3" r="1.5"/><circle cx="260.3" cy="794.3" r="1.5"/><circle cx="270.3" cy="794.3" r="1.5"/><circle cx="290.4" cy="794.3" r="1.5"/><circle cx="280.4" cy="799.9" r="1.5"/><circle cx="290.4" cy="799.9" r="1.5"/><circle cx="313.8" cy="799.9" r="1.5"/><circle cx="216.7" cy="805.6" r="1.5"/><circle cx="233.5" cy="805.6" r="1.5"/><circle cx="297.1" cy="805.6" r="1.5"/><circle cx="340.6" cy="805.6" r="1.5"/><circle cx="270.3" cy="811.2" r="1.5"/><circle cx="290.4" cy="811.2" r="1.5"/><circle cx="233.5" cy="816.9" r="1.5"/><circle cx="260.3" cy="816.9" r="1.5"/><circle cx="253.6" cy="822.5" r="1.5"/><circle cx="293.7" cy="839.5" r="1.5"/><circle cx="283.7" cy="862.0" r="1.5"/><circle cx="267.0" cy="879.0" r="1.5"/></g><polygon points="60.1,647.2 64.8,650.0 69.5,652.8 74.1,655.6 78.8,658.4 83.5,661.2 88.2,664.0 92.8,666.8 97.5,669.6 102.2,672.4 106.9,675.2 111.6,678.0 116.2,680.8 120.9,683.6 125.6,686.4 130.3,689.2 135.0,692.0 139.6,694.7 144.3,697.5 149.0,700.3 153.7,703.0 158.3,705.8 163.0,708.5 167.7,711.3 172.4,714.0 177.1,716.7 181.7,719.4 186.4,722.1 191.1,724.7 195.8,727.4 200.4,730.0 205.1,732.5 209.8,735.1 214.5,737.6 219.2,740.0 223.8,742.4 228.5,744.8 233.2,747.1 237.9,749.4 242.6,751.7 247.2,753.9 251.9,756.2 256.6,758.4 261.3,760.5 265.9,762.7 270.6,764.9 275.3,767.0 280.0,769.1 284.7,771.3 289.3,773.4 294.0,775.5 298.7,777.6 303.4,779.7 308.1,781.8 312.7,783.9 317.4,786.0 322.1,788.1 326.8,790.2 331.4,792.3 336.1,794.4 340.8,796.4 340.8,817.6 336.1,814.8 331.4,812.0 326.8,809.2 322.1,806.4 317.4,803.6 312.7,800.8 308.1,798.0 303.4,795.2 298.7,792.4 294.0,789.7 289.3,786.9 284.7,784.1 280.0,781.4 275.3,778.6 270.6,775.9 265.9,773.2 261.3,770.4 256.6,767.7 251.9,765.1 247.2,762.4 242.6,759.7 237.9,757.1 233.2,754.5 228.5,752.0 223.8,749.5 219.2,747.0 214.5,744.6 209.8,742.2 205.1,739.8 200.4,737.5 195.8,735.3 191.1,733.0 186.4,730.8 181.7,728.6 177.1,726.4 172.4,724.2 167.7,722.0 163.0,719.9 158.3,717.8 153.7,715.6 149.0,713.5 144.3,711.4 139.6,709.3 135.0,707.2 130.3,705.1 125.6,703.0 120.9,700.9 116.2,698.8 111.6,696.7 106.9,694.6 102.2,692.5 97.5,690.4 92.8,688.3 88.2,686.3 83.5,684.2 78.8,682.1 74.1,680.0 69.5,678.0 64.8,675.9 60.1,673.8" fill="#999" fill-opacity="0.4"/><line x1="60.1" y1="660.5" x2="340.8" y2="807.0" stroke="#f00" stroke-width="1.1"/><path d="M45.9,611.0V891.4" fill="none" stroke="#a3a3a3" stroke-width="2.0"/><path d="M44.9,891.4H354.7" fill="none" stroke="#6a6a6a" stroke-width="1.4"/><path d="M43.3,890.3H45.9M43.3,833.8H45.9M43.3,777.3H45.9M43.3,720.9H45.9M43.3,664.4H45.9M79.5,891.4v2.6M146.4,891.4v2.6M213.4,891.4v2.6M280.4,891.4v2.6M347.3,891.4v2.6" stroke="#444" stroke-width="0.9"/><g font-family="Liberation Sans" font-size="100" fill="#525252" stroke="#525252" stroke-width="1"><text transform="translate(38.24,892.48) scale(0.0570,0.0620)">0</text><text transform="translate(35.10,836.01) scale(0.0570,0.0620)">10</text><text transform="translate(35.10,779.54) scale(0.0570,0.0620)">20</text><text transform="translate(35.10,723.07) scale(0.0570,0.0620)">30</text><text transform="translate(35.10,666.60) scale(0.0570,0.0620)">40</text><text transform="translate(76.16,901.30) scale(0.0596,0.0648)">20</text><text transform="translate(143.20,901.30) scale(0.0596,0.0648)">40</text><text transform="translate(210.06,901.30) scale(0.0596,0.0648)">60</text><text transform="translate(277.04,901.30) scale(0.0596,0.0648)">80</text><text transform="translate(342.20,901.30) scale(0.0596,0.0648)">100</text></g><text transform="translate(24.40,836.21) rotate(-90) scale(0.2070,0.2196)" font-family="Liberation Sans" font-size="100" fill="#000" stroke="#000" stroke-width="0.000">The score of the PSS</text><text transform="translate(123.58,922.60) scale(0.1841,0.1957)" font-family="Liberation Sans" font-size="100" fill="#000" stroke="#000" stroke-width="0.527">The score of the J-RS</text><text transform="translate(97.42,821.80) scale(0.2155,0.2070)" font-family="Liberation Sans" font-size="100" fill="#000" stroke="#000" stroke-width="1.183">r = -0.64</text><text transform="translate(97.44,850.00) scale(0.2124,0.2014)" font-family="Liberation Sans" font-size="100" fill="#000" stroke="#000" stroke-width="1.208">p &lt; 0.01</text><text transform="translate(1.29,870.05) scale(0.2182,0.2213)" font-family="Liberation Sans" font-size="100" fill="#000" stroke="#000" stroke-width="1.365">(e)</text></g><g id="pf"><g fill="#000"><circle cx="674.5" cy="629.5" r="1.5"/><circle cx="677.8" cy="629.5" r="1.5"/><circle cx="694.6" cy="629.5" r="1.5"/><circle cx="701.3" cy="629.5" r="1.5"/><circle cx="718.0" cy="629.5" r="1.5"/><circle cx="674.5" cy="638.1" r="1.5"/><circle cx="711.3" cy="638.1" r="1.5"/><circle cx="594.1" cy="646.7" r="1.5"/><circle cx="664.4" cy="646.7" r="1.5"/><circle cx="687.9" cy="646.7" r="1.5"/><circle cx="697.9" cy="646.7" r="1.5"/><circle cx="701.3" cy="646.7" r="1.5"/><circle cx="718.0" cy="646.7" r="1.5"/><circle cx="624.3" cy="655.3" r="1.5"/><circle cx="627.6" cy="655.3" r="1.5"/><circle cx="637.7" cy="655.3" r="1.5"/><circle cx="667.8" cy="655.3" r="1.5"/><circle cx="674.5" cy="655.3" r="1.5"/><circle cx="744.8" cy="655.3" r="1.5"/><circle cx="584.1" cy="663.9" r="1.5"/><circle cx="624.3" cy="663.9" r="1.5"/><circle cx="631.0" cy="663.9" r="1.5"/><circle cx="647.7" cy="663.9" r="1.5"/><circle cx="654.4" cy="663.9" r="1.5"/><circle cx="664.4" cy="663.9" r="1.5"/><circle cx="671.1" cy="663.9" r="1.5"/><circle cx="694.6" cy="663.9" r="1.5"/><circle cx="697.9" cy="663.9" r="1.5"/><circle cx="597.5" cy="672.5" r="1.5"/><circle cx="624.3" cy="672.5" r="1.5"/><circle cx="644.4" cy="672.5" r="1.5"/><circle cx="647.7" cy="672.5" r="1.5"/><circle cx="651.1" cy="672.5" r="1.5"/><circle cx="657.7" cy="672.5" r="1.5"/><circle cx="671.1" cy="672.5" r="1.5"/><circle cx="687.9" cy="672.5" r="1.5"/><circle cx="691.2" cy="672.5" r="1.5"/><circle cx="701.3" cy="672.5" r="1.5"/><circle cx="724.7" cy="672.5" r="1.5"/><circle cx="620.9" cy="681.1" r="1.5"/><circle cx="624.3" cy="681.1" r="1.5"/><circle cx="627.6" cy="681.1" r="1.5"/><circle cx="637.7" cy="681.1" r="1.5"/><circle cx="657.7" cy="681.1" r="1.5"/><circle cx="661.1" cy="681.1" r="1.5"/><circle cx="664.4" cy="681.1" r="1.5"/><circle cx="674.5" cy="681.1" r="1.5"/><circle cx="684.5" cy="681.1" r="1.5"/><circle cx="577.4" cy="689.7" r="1.5"/><circle cx="607.5" cy="689.7" r="1.5"/><circle cx="634.3" cy="689.7" r="1.5"/><circle cx="641.0" cy="689.7" r="1.5"/><circle cx="661.1" cy="689.7" r="1.5"/><circle cx="664.4" cy="689.7" r="1.5"/><circle cx="667.8" cy="689.7" r="1.5"/><circle cx="681.2" cy="689.7" r="1.5"/><circle cx="691.2" cy="689.7" r="1.5"/><circle cx="694.6" cy="689.7" r="1.5"/><circle cx="557.3" cy="698.3" r="1.5"/><circle cx="600.8" cy="698.3" r="1.5"/><circle cx="614.2" cy="698.3" r="1.5"/><circle cx="627.6" cy="698.3" r="1.5"/><circle cx="637.7" cy="698.3" r="1.5"/><circle cx="641.0" cy="698.3" r="1.5"/><circle cx="644.4" cy="698.3" r="1.5"/><circle cx="674.5" cy="698.3" r="1.5"/><circle cx="677.8" cy="698.3" r="1.5"/><circle cx="684.5" cy="698.3" r="1.5"/><circle cx="687.9" cy="698.3" r="1.5"/><circle cx="708.0" cy="698.3" r="1.5"/><circle cx="553.9" cy="706.9" r="1.5"/><circle cx="574.0" cy="706.9" r="1.5"/><circle cx="577.4" cy="706.9" r="1.5"/><circle cx="597.5" cy="706.9" r="1.5"/><circle cx="620.9" cy="706.9" r="1.5"/><circle cx="624.3" cy="706.9" r="1.5"/><circle cx="631.0" cy="706.9" r="1.5"/><circle cx="634.3" cy="706.9" r="1.5"/><circle cx="637.7" cy="706.9" r="1.5"/><circle cx="641.0" cy="706.9" r="1.5"/><circle cx="681.2" cy="706.9" r="1.5"/><circle cx="527.1" cy="715.5" r="1.5"/><circle cx="584.1" cy="715.5" r="1.5"/><circle cx="587.4" cy="715.5" r="1.5"/><circle cx="594.1" cy="715.5" r="1.5"/><circle cx="617.6" cy="715.5" r="1.5"/><circle cx="620.9" cy="715.5" r="1.5"/><circle cx="644.4" cy="715.5" r="1.5"/><circle cx="647.7" cy="715.5" r="1.5"/><circle cx="651.1" cy="715.5" r="1.5"/><circle cx="664.4" cy="715.5" r="1.5"/><circle cx="681.2" cy="715.5" r="1.5"/><circle cx="684.5" cy="715.5" r="1.5"/><circle cx="580.7" cy="724.1" r="1.5"/><circle cx="594.1" cy="724.1" r="1.5"/><circle cx="600.8" cy="724.1" r="1.5"/><circle cx="604.2" cy="724.1" r="1.5"/><circle cx="614.2" cy="724.1" r="1.5"/><circle cx="617.6" cy="724.1" r="1.5"/><circle cx="620.9" cy="724.1" r="1.5"/><circle cx="624.3" cy="724.1" r="1.5"/><circle cx="634.3" cy="724.1" r="1.5"/><circle cx="644.4" cy="724.1" r="1.5"/><circle cx="647.7" cy="724.1" r="1.5"/><circle cx="661.1" cy="724.1" r="1.5"/><circle cx="664.4" cy="724.1" r="1.5"/><circle cx="671.1" cy="724.1" r="1.5"/><circle cx="570.7" cy="732.7" r="1.5"/><circle cx="584.1" cy="732.7" r="1.5"/><circle cx="590.8" cy="732.7" r="1.5"/><circle cx="594.1" cy="732.7" r="1.5"/><circle cx="604.2" cy="732.7" r="1.5"/><circle cx="624.3" cy="732.7" r="1.5"/><circle cx="627.6" cy="732.7" r="1.5"/><circle cx="637.7" cy="732.7" r="1.5"/><circle cx="641.0" cy="732.7" r="1.5"/><circle cx="674.5" cy="732.7" r="1.5"/><circle cx="547.2" cy="741.3" r="1.5"/><circle cx="580.7" cy="741.3" r="1.5"/><circle cx="590.8" cy="741.3" r="1.5"/><circle cx="600.8" cy="741.3" r="1.5"/><circle cx="604.2" cy="741.3" r="1.5"/><circle cx="610.9" cy="741.3" r="1.5"/><circle cx="614.2" cy="741.3" r="1.5"/><circle cx="617.6" cy="741.3" r="1.5"/><circle cx="624.3" cy="741.3" r="1.5"/><circle cx="634.3" cy="741.3" r="1.5"/><circle cx="637.7" cy="741.3" r="1.5"/><circle cx="647.7" cy="741.3" r="1.5"/><circle cx="520.4" cy="749.9" r="1.5"/><circle cx="567.3" cy="749.9" r="1.5"/><circle cx="577.4" cy="749.9" r="1.5"/><circle cx="580.7" cy="749.9" r="1.5"/><circle cx="600.8" cy="749.9" r="1.5"/><circle cx="604.2" cy="749.9" r="1.5"/><circle cx="607.5" cy="749.9" r="1.5"/><circle cx="610.9" cy="749.9" r="1.5"/><circle cx="614.2" cy="749.9" r="1.5"/><circle cx="631.0" cy="749.9" r="1.5"/><circle cx="641.0" cy="749.9" r="1.5"/><circle cx="644.4" cy="749.9" r="1.5"/><circle cx="507.0" cy="758.5" r="1.5"/><circle cx="557.3" cy="758.5" r="1.5"/><circle cx="560.6" cy="758.5" r="1.5"/><circle cx="564.0" cy="758.5" r="1.5"/><circle cx="577.4" cy="758.5" r="1.5"/><circle cx="594.1" cy="758.5" r="1.5"/><circle cx="597.5" cy="758.5" r="1.5"/><circle cx="610.9" cy="758.5" r="1.5"/><circle cx="617.6" cy="758.5" r="1.5"/><circle cx="620.9" cy="758.5" r="1.5"/><circle cx="634.3" cy="758.5" r="1.5"/><circle cx="647.7" cy="758.5" r="1.5"/><circle cx="651.1" cy="758.5" r="1.5"/><circle cx="510.4" cy="767.1" r="1.5"/><circle cx="540.5" cy="767.1" r="1.5"/><circle cx="543.9" cy="767.1" r="1.5"/><circle cx="570.7" cy="767.1" r="1.5"/><circle cx="574.0" cy="767.1" r="1.5"/><circle cx="584.1" cy="767.1" r="1.5"/><circle cx="604.2" cy="767.1" r="1.5"/><circle cx="607.5" cy="767.1" r="1.5"/><circle cx="574.0" cy="775.7" r="1.5"/><circle cx="584.1" cy="775.7" r="1.5"/><circle cx="590.8" cy="775.7" r="1.5"/><circle cx="604.2" cy="775.7" r="1.5"/><circle cx="607.5" cy="775.7" r="1.5"/><circle cx="610.9" cy="775.7" r="1.5"/><circle cx="617.6" cy="775.7" r="1.5"/><circle cx="624.3" cy="775.7" r="1.5"/><circle cx="644.4" cy="775.7" r="1.5"/><circle cx="557.3" cy="784.3" r="1.5"/><circle cx="567.3" cy="784.3" r="1.5"/><circle cx="587.4" cy="784.3" r="1.5"/><circle cx="590.8" cy="784.3" r="1.5"/><circle cx="597.5" cy="784.3" r="1.5"/><circle cx="637.7" cy="784.3" r="1.5"/><circle cx="667.8" cy="784.3" r="1.5"/><circle cx="520.4" cy="792.9" r="1.5"/><circle cx="530.5" cy="792.9" r="1.5"/><circle cx="543.9" cy="792.9" r="1.5"/><circle cx="553.9" cy="792.9" r="1.5"/><circle cx="574.0" cy="792.9" r="1.5"/><circle cx="580.7" cy="792.9" r="1.5"/><circle cx="584.1" cy="792.9" r="1.5"/><circle cx="590.8" cy="792.9" r="1.5"/><circle cx="607.5" cy="792.9" r="1.5"/><circle cx="533.8" cy="801.5" r="1.5"/><circle cx="553.9" cy="801.5" r="1.5"/><circle cx="577.4" cy="801.5" r="1.5"/><circle cx="580.7" cy="801.5" r="1.5"/><circle cx="517.1" cy="810.1" r="1.5"/><circle cx="564.0" cy="810.1" r="1.5"/><circle cx="587.4" cy="810.1" r="1.5"/><circle cx="527.1" cy="818.7" r="1.5"/><circle cx="614.2" cy="818.7" r="1.5"/><circle cx="637.7" cy="818.7" r="1.5"/><circle cx="641.0" cy="818.7" r="1.5"/><circle cx="547.2" cy="827.3" r="1.5"/><circle cx="520.4" cy="835.9" r="1.5"/><circle cx="567.3" cy="844.5" r="1.5"/><circle cx="617.6" cy="853.1" r="1.5"/><circle cx="503.7" cy="861.7" r="1.5"/><circle cx="463.5" cy="878.9" r="1.5"/></g><polygon points="464.1,824.9 468.8,821.9 473.4,818.9 478.1,816.0 482.8,813.0 487.4,810.0 492.1,807.1 496.8,804.1 501.4,801.1 506.1,798.1 510.8,795.2 515.4,792.2 520.1,789.2 524.8,786.2 529.4,783.2 534.1,780.2 538.8,777.3 543.4,774.3 548.1,771.2 552.8,768.2 557.4,765.2 562.1,762.2 566.8,759.2 571.4,756.1 576.1,753.1 580.8,750.0 585.4,746.9 590.1,743.8 594.8,740.6 599.4,737.5 604.1,734.3 608.8,731.0 613.4,727.7 618.1,724.4 622.8,721.1 627.4,717.6 632.1,714.2 636.8,710.7 641.4,707.1 646.1,703.5 650.8,699.9 655.4,696.3 660.1,692.6 664.8,688.9 669.4,685.2 674.1,681.5 678.8,677.8 683.4,674.1 688.1,670.3 692.8,666.6 697.4,662.8 702.1,659.1 706.8,655.3 711.4,651.5 716.1,647.7 720.8,644.0 725.4,640.2 730.1,636.4 734.8,632.6 739.4,628.8 744.1,625.0 744.1,649.2 739.4,652.2 734.8,655.1 730.1,658.1 725.4,661.1 720.8,664.1 716.1,667.1 711.4,670.1 706.8,673.0 702.1,676.0 697.4,679.0 692.8,682.1 688.1,685.1 683.4,688.1 678.8,691.1 674.1,694.2 669.4,697.2 664.8,700.3 660.1,703.4 655.4,706.5 650.8,709.6 646.1,712.8 641.4,715.9 636.8,719.2 632.1,722.4 627.4,725.7 622.8,729.1 618.1,732.5 613.4,735.9 608.8,739.4 604.1,742.9 599.4,746.5 594.8,750.1 590.1,753.7 585.4,757.4 580.8,761.1 576.1,764.7 571.4,768.5 566.8,772.2 562.1,775.9 557.4,779.6 552.8,783.4 548.1,787.2 543.4,790.9 538.8,794.7 534.1,798.5 529.4,802.2 524.8,806.0 520.1,809.8 515.4,813.6 510.8,817.4 506.1,821.2 501.4,824.9 496.8,828.7 492.1,832.5 487.4,836.3 482.8,840.1 478.1,843.9 473.4,847.7 468.8,851.5 464.1,855.3" fill="#999" fill-opacity="0.4"/><line x1="464.1" y1="840.1" x2="744.1" y2="637.1" stroke="#f00" stroke-width="1.1"/><path d="M449.6,611.4V891.5" fill="none" stroke="#7c7c7c" stroke-width="1.5"/><path d="M448.9,891.5H757.8" fill="none" stroke="#5a5a5a" stroke-width="1.4"/><path d="M447.0,887.5H449.6M447.0,844.5H449.6M447.0,801.5H449.6M447.0,758.5H449.6M447.0,715.5H449.6M447.0,672.5H449.6M447.0,629.5H449.6M483.6,891.5v2.6M550.6,891.5v2.6M617.6,891.5v2.6M684.5,891.5v2.6M751.5,891.5v2.6" stroke="#444" stroke-width="0.9"/><g font-family="Liberation Sans" font-size="100" fill="#525252" stroke="#525252" stroke-width="1"><text transform="translate(439.22,889.80) scale(0.0596,0.0648)">10</text><text transform="translate(439.22,846.80) scale(0.0596,0.0648)">15</text><text transform="translate(439.22,803.80) scale(0.0596,0.0648)">20</text><text transform="translate(439.22,760.80) scale(0.0596,0.0648)">25</text><text transform="translate(439.22,717.80) scale(0.0596,0.0648)">30</text><text transform="translate(439.22,674.80) scale(0.0596,0.0648)">35</text><text transform="translate(439.22,631.80) scale(0.0596,0.0648)">40</text><text transform="translate(480.04,901.35) scale(0.0635,0.0690)">20</text><text transform="translate(547.12,901.35) scale(0.0635,0.0690)">40</text><text transform="translate(614.00,901.35) scale(0.0635,0.0690)">60</text><text transform="translate(681.02,901.35) scale(0.0635,0.0690)">80</text><text transform="translate(746.09,901.35) scale(0.0635,0.0690)">100</text></g><text transform="translate(427.00,839.11) rotate(-90) scale(0.2033,0.2174)" font-family="Liberation Sans" font-size="100" fill="#000" stroke="#000" stroke-width="0.000">The score of the RSES</text><text transform="translate(519.58,922.60) scale(0.1833,0.1928)" font-family="Liberation Sans" font-size="100" fill="#000" stroke="#000" stroke-width="0.532">The score of the J-RS</text><text transform="translate(692.61,823.10) scale(0.2162,0.2070)" font-family="Liberation Sans" font-size="100" fill="#000" stroke="#000" stroke-width="1.181">r = 0.70</text><text transform="translate(692.64,851.00) scale(0.2115,0.1972)" font-family="Liberation Sans" font-size="100" fill="#000" stroke="#000" stroke-width="1.223">p &lt; 0.01</text><text transform="translate(407.02,869.82) scale(0.2305,0.2181)" font-family="Liberation Sans" font-size="100" fill="#000" stroke="#000" stroke-width="1.338">(f)</text></g><g id="pg"><g fill="#000"><circle cx="169.9" cy="968.0" r="1.5"/><circle cx="176.8" cy="973.0" r="1.5"/><circle cx="146.6" cy="976.5" r="1.5"/><circle cx="139.8" cy="983.6" r="1.5"/><circle cx="123.1" cy="984.4" r="1.5"/><circle cx="186.7" cy="979.4" r="1.5"/><circle cx="193.8" cy="984.4" r="1.5"/><circle cx="186.7" cy="990.7" r="1.5"/><circle cx="197.1" cy="990.7" r="1.5"/><circle cx="193.8" cy="995.6" r="1.5"/><circle cx="166.8" cy="996.3" r="1.5"/><circle cx="169.9" cy="998.1" r="1.5"/><circle cx="176.8" cy="997.3" r="1.5"/><circle cx="180.3" cy="1003.1" r="1.5"/><circle cx="163.7" cy="1004.4" r="1.5"/><circle cx="163.7" cy="1007.5" r="1.5"/><circle cx="166.8" cy="1007.5" r="1.5"/><circle cx="173.6" cy="1005.2" r="1.5"/><circle cx="176.8" cy="1007.5" r="1.5"/><circle cx="180.3" cy="1011.4" r="1.5"/><circle cx="193.8" cy="1004.8" r="1.5"/><circle cx="227.0" cy="942.5" r="1.5"/><circle cx="264.4" cy="951.4" r="1.5"/><circle cx="220.4" cy="959.3" r="1.5"/><circle cx="227.0" cy="956.6" r="1.5"/><circle cx="230.8" cy="958.2" r="1.5"/><circle cx="237.4" cy="959.3" r="1.5"/><circle cx="241.1" cy="963.0" r="1.5"/><circle cx="220.4" cy="963.9" r="1.5"/><circle cx="257.6" cy="959.9" r="1.5"/><circle cx="274.4" cy="956.6" r="1.5"/><circle cx="291.4" cy="958.2" r="1.5"/><circle cx="294.5" cy="958.2" r="1.5"/><circle cx="291.4" cy="962.4" r="1.5"/><circle cx="338.2" cy="959.9" r="1.5"/><circle cx="207.3" cy="968.0" r="1.5"/><circle cx="230.8" cy="966.1" r="1.5"/><circle cx="257.6" cy="967.6" r="1.5"/><circle cx="267.5" cy="968.6" r="1.5"/><circle cx="267.5" cy="970.7" r="1.5"/><circle cx="311.6" cy="968.0" r="1.5"/><circle cx="207.3" cy="977.6" r="1.5"/><circle cx="214.1" cy="974.9" r="1.5"/><circle cx="217.2" cy="973.4" r="1.5"/><circle cx="230.8" cy="974.9" r="1.5"/><circle cx="241.1" cy="974.9" r="1.5"/><circle cx="244.3" cy="974.9" r="1.5"/><circle cx="250.9" cy="973.8" r="1.5"/><circle cx="267.5" cy="973.8" r="1.5"/><circle cx="271.1" cy="974.5" r="1.5"/><circle cx="277.5" cy="974.9" r="1.5"/><circle cx="257.6" cy="977.6" r="1.5"/><circle cx="217.2" cy="979.6" r="1.5"/><circle cx="210.4" cy="983.6" r="1.5"/><circle cx="217.2" cy="984.6" r="1.5"/><circle cx="230.8" cy="983.6" r="1.5"/><circle cx="234.3" cy="982.6" r="1.5"/><circle cx="237.4" cy="982.6" r="1.5"/><circle cx="257.6" cy="984.6" r="1.5"/><circle cx="260.9" cy="986.3" r="1.5"/><circle cx="277.5" cy="982.6" r="1.5"/><circle cx="284.8" cy="981.1" r="1.5"/><circle cx="284.8" cy="983.6" r="1.5"/><circle cx="317.8" cy="977.6" r="1.5"/><circle cx="201.0" cy="991.9" r="1.5"/><circle cx="207.3" cy="989.4" r="1.5"/><circle cx="210.4" cy="990.7" r="1.5"/><circle cx="214.1" cy="990.7" r="1.5"/><circle cx="217.2" cy="991.9" r="1.5"/><circle cx="227.0" cy="990.7" r="1.5"/><circle cx="237.4" cy="989.0" r="1.5"/><circle cx="257.6" cy="990.7" r="1.5"/><circle cx="237.4" cy="994.2" r="1.5"/><circle cx="267.5" cy="992.1" r="1.5"/><circle cx="287.7" cy="989.0" r="1.5"/><circle cx="287.7" cy="991.1" r="1.5"/><circle cx="311.6" cy="992.1" r="1.5"/><circle cx="250.9" cy="995.6" r="1.5"/><circle cx="214.1" cy="996.7" r="1.5"/><circle cx="234.3" cy="999.8" r="1.5"/><circle cx="214.1" cy="1003.5" r="1.5"/><circle cx="220.4" cy="1001.9" r="1.5"/><circle cx="217.2" cy="1003.5" r="1.5"/><circle cx="223.9" cy="1003.5" r="1.5"/><circle cx="244.3" cy="1001.9" r="1.5"/><circle cx="260.9" cy="997.3" r="1.5"/><circle cx="274.4" cy="998.1" r="1.5"/><circle cx="270.6" cy="999.8" r="1.5"/><circle cx="267.5" cy="1002.3" r="1.5"/><circle cx="281.0" cy="998.8" r="1.5"/><circle cx="281.0" cy="1002.9" r="1.5"/><circle cx="304.9" cy="1000.2" r="1.5"/><circle cx="207.3" cy="1010.8" r="1.5"/><circle cx="210.4" cy="1009.2" r="1.5"/><circle cx="214.1" cy="1011.4" r="1.5"/><circle cx="217.2" cy="1010.8" r="1.5"/><circle cx="220.4" cy="1006.7" r="1.5"/><circle cx="223.9" cy="1010.2" r="1.5"/><circle cx="230.8" cy="1005.2" r="1.5"/><circle cx="234.3" cy="1004.0" r="1.5"/><circle cx="234.3" cy="1006.0" r="1.5"/><circle cx="230.8" cy="1009.4" r="1.5"/><circle cx="234.3" cy="1010.8" r="1.5"/><circle cx="237.4" cy="1012.3" r="1.5"/><circle cx="254.0" cy="1009.2" r="1.5"/><circle cx="257.6" cy="1008.7" r="1.5"/><circle cx="260.9" cy="1007.7" r="1.5"/><circle cx="264.4" cy="1009.2" r="1.5"/><circle cx="254.0" cy="1011.9" r="1.5"/><circle cx="281.0" cy="1010.8" r="1.5"/><circle cx="294.5" cy="1008.1" r="1.5"/><circle cx="204.2" cy="1016.4" r="1.5"/><circle cx="207.3" cy="1016.4" r="1.5"/><circle cx="214.1" cy="1017.7" r="1.5"/><circle cx="230.8" cy="1019.5" r="1.5"/><circle cx="190.3" cy="1020.6" r="1.5"/><circle cx="193.8" cy="1020.6" r="1.5"/><circle cx="136.6" cy="1026.6" r="1.5"/><circle cx="119.6" cy="1042.4" r="1.5"/><circle cx="119.6" cy="1044.9" r="1.5"/><circle cx="136.6" cy="1047.4" r="1.5"/><circle cx="136.6" cy="1058.4" r="1.5"/><circle cx="109.6" cy="1061.1" r="1.5"/><circle cx="99.5" cy="1070.3" r="1.5"/><circle cx="113.2" cy="1072.8" r="1.5"/><circle cx="113.2" cy="1079.6" r="1.5"/><circle cx="113.2" cy="1096.5" r="1.5"/><circle cx="133.1" cy="1094.0" r="1.5"/><circle cx="139.8" cy="1068.6" r="1.5"/><circle cx="150.2" cy="1091.5" r="1.5"/><circle cx="150.2" cy="1092.7" r="1.5"/><circle cx="153.5" cy="1063.6" r="1.5"/><circle cx="156.6" cy="1050.1" r="1.5"/><circle cx="160.1" cy="1039.1" r="1.5"/><circle cx="160.1" cy="1056.8" r="1.5"/><circle cx="166.8" cy="1037.0" r="1.5"/><circle cx="166.8" cy="1069.5" r="1.5"/><circle cx="169.9" cy="1055.7" r="1.5"/><circle cx="173.6" cy="1070.3" r="1.5"/><circle cx="173.6" cy="1072.8" r="1.5"/><circle cx="176.8" cy="1066.8" r="1.5"/><circle cx="173.6" cy="1084.4" r="1.5"/><circle cx="176.8" cy="1082.8" r="1.5"/><circle cx="169.9" cy="1093.8" r="1.5"/><circle cx="169.9" cy="1095.2" r="1.5"/><circle cx="173.6" cy="1093.1" r="1.5"/><circle cx="176.8" cy="1100.2" r="1.5"/><circle cx="156.6" cy="1099.0" r="1.5"/><circle cx="160.1" cy="1098.3" r="1.5"/><circle cx="180.3" cy="1040.2" r="1.5"/><circle cx="183.6" cy="1028.7" r="1.5"/><circle cx="187.1" cy="1027.7" r="1.5"/><circle cx="183.6" cy="1046.6" r="1.5"/><circle cx="183.6" cy="1065.3" r="1.5"/><circle cx="183.6" cy="1077.6" r="1.5"/><circle cx="187.1" cy="1058.6" r="1.5"/><circle cx="190.3" cy="1056.2" r="1.5"/><circle cx="187.1" cy="1087.7" r="1.5"/><circle cx="190.3" cy="1084.0" r="1.5"/><circle cx="193.8" cy="1064.7" r="1.5"/><circle cx="197.1" cy="1083.4" r="1.5"/><circle cx="197.1" cy="1052.8" r="1.5"/><circle cx="197.1" cy="1044.9" r="1.5"/><circle cx="197.1" cy="1040.2" r="1.5"/><circle cx="197.1" cy="1037.7" r="1.5"/><circle cx="200.6" cy="1026.2" r="1.5"/><circle cx="200.6" cy="1030.0" r="1.5"/><circle cx="200.6" cy="1031.4" r="1.5"/><circle cx="210.4" cy="1020.6" r="1.5"/><circle cx="214.1" cy="1023.1" r="1.5"/><circle cx="217.2" cy="1027.7" r="1.5"/><circle cx="230.8" cy="1027.7" r="1.5"/><circle cx="250.9" cy="1024.6" r="1.5"/><circle cx="281.0" cy="1025.2" r="1.5"/><circle cx="227.0" cy="1035.6" r="1.5"/><circle cx="230.8" cy="1035.6" r="1.5"/><circle cx="241.1" cy="1035.0" r="1.5"/><circle cx="244.3" cy="1035.0" r="1.5"/><circle cx="247.8" cy="1037.0" r="1.5"/><circle cx="254.0" cy="1038.3" r="1.5"/><circle cx="261.3" cy="1033.5" r="1.5"/><circle cx="210.4" cy="1037.7" r="1.5"/><circle cx="217.2" cy="1038.1" r="1.5"/><circle cx="217.2" cy="1039.3" r="1.5"/><circle cx="227.0" cy="1040.2" r="1.5"/><circle cx="234.3" cy="1038.7" r="1.5"/><circle cx="207.3" cy="1046.6" r="1.5"/><circle cx="210.4" cy="1047.0" r="1.5"/><circle cx="217.2" cy="1046.2" r="1.5"/><circle cx="223.9" cy="1049.1" r="1.5"/><circle cx="234.3" cy="1047.0" r="1.5"/><circle cx="227.0" cy="1054.3" r="1.5"/><circle cx="241.1" cy="1052.6" r="1.5"/><circle cx="241.1" cy="1056.4" r="1.5"/><circle cx="254.0" cy="1058.4" r="1.5"/><circle cx="257.6" cy="1054.3" r="1.5"/><circle cx="260.9" cy="1048.5" r="1.5"/><circle cx="260.9" cy="1052.2" r="1.5"/><circle cx="264.4" cy="1052.8" r="1.5"/><circle cx="274.4" cy="1055.7" r="1.5"/><circle cx="284.8" cy="1046.6" r="1.5"/><circle cx="287.7" cy="1048.1" r="1.5"/><circle cx="301.2" cy="1044.3" r="1.5"/><circle cx="204.2" cy="1057.0" r="1.5"/><circle cx="230.8" cy="1064.7" r="1.5"/><circle cx="234.3" cy="1062.2" r="1.5"/><circle cx="237.4" cy="1064.7" r="1.5"/><circle cx="244.3" cy="1069.9" r="1.5"/><circle cx="204.2" cy="1075.1" r="1.5"/><circle cx="220.4" cy="1074.0" r="1.5"/><circle cx="241.1" cy="1076.1" r="1.5"/><circle cx="237.4" cy="1081.7" r="1.5"/><circle cx="217.2" cy="1090.0" r="1.5"/><circle cx="237.4" cy="1091.5" r="1.5"/><circle cx="210.4" cy="1097.3" r="1.5"/><circle cx="207.3" cy="1105.2" r="1.5"/><circle cx="217.2" cy="1102.5" r="1.5"/><circle cx="103.4" cy="1119.8" r="1.5"/><circle cx="146.6" cy="1121.6" r="1.5"/><circle cx="126.5" cy="1128.9" r="1.5"/><circle cx="96.1" cy="1139.9" r="1.5"/><circle cx="166.8" cy="1142.0" r="1.5"/><circle cx="55.8" cy="1158.6" r="1.5"/><circle cx="183.6" cy="1179.4" r="1.5"/><circle cx="197.1" cy="1186.1" r="1.5"/><circle cx="149.9" cy="1189.0" r="1.5"/><circle cx="146.6" cy="1196.7" r="1.5"/><circle cx="250.9" cy="1117.5" r="1.5"/><circle cx="203.7" cy="1156.6" r="1.5"/></g><polygon points="56.0,1094.1 60.7,1092.1 65.4,1090.0 70.1,1088.0 74.8,1085.9 79.5,1083.9 84.2,1081.9 88.9,1079.8 93.6,1077.8 98.3,1075.7 103.0,1073.7 107.7,1071.6 112.4,1069.6 117.1,1067.5 121.8,1065.4 126.5,1063.4 131.1,1061.3 135.8,1059.2 140.5,1057.1 145.2,1055.0 149.9,1052.9 154.6,1050.8 159.3,1048.7 164.0,1046.6 168.7,1044.4 173.4,1042.2 178.1,1040.1 182.8,1037.8 187.5,1035.6 192.2,1033.3 196.9,1031.0 201.6,1028.6 206.3,1026.2 211.0,1023.7 215.7,1021.2 220.4,1018.6 225.1,1016.0 229.8,1013.3 234.5,1010.6 239.2,1007.8 243.9,1005.0 248.6,1002.1 253.3,999.3 258.0,996.4 262.7,993.4 267.4,990.5 272.0,987.6 276.7,984.6 281.4,981.6 286.1,978.6 290.8,975.7 295.5,972.7 300.2,969.6 304.9,966.6 309.6,963.6 314.3,960.6 319.0,957.6 323.7,954.6 328.4,951.5 333.1,948.5 337.8,945.5 337.8,974.5 333.1,976.6 328.4,978.6 323.7,980.7 319.0,982.7 314.3,984.8 309.6,986.9 304.9,988.9 300.2,991.0 295.5,993.1 290.8,995.1 286.1,997.2 281.4,999.3 276.7,1001.4 272.0,1003.6 267.4,1005.7 262.7,1007.8 258.0,1010.0 253.3,1012.2 248.6,1014.4 243.9,1016.6 239.2,1018.9 234.5,1021.2 229.8,1023.5 225.1,1025.9 220.4,1028.4 215.7,1030.9 211.0,1033.4 206.3,1036.0 201.6,1038.7 196.9,1041.4 192.2,1044.2 187.5,1047.0 182.8,1049.8 178.1,1052.7 173.4,1055.6 168.7,1058.5 164.0,1061.4 159.3,1064.3 154.6,1067.3 149.9,1070.3 145.2,1073.2 140.5,1076.2 135.8,1079.2 131.1,1082.2 126.5,1085.2 121.8,1088.2 117.1,1091.3 112.4,1094.3 107.7,1097.3 103.0,1100.3 98.3,1103.4 93.6,1106.4 88.9,1109.4 84.2,1112.5 79.5,1115.5 74.8,1118.5 70.1,1121.6 65.4,1124.6 60.7,1127.7 56.0,1130.7" fill="#999" fill-opacity="0.4"/><line x1="56.0" y1="1112.4" x2="337.8" y2="960.0" stroke="#f00" stroke-width="1.1"/><path d="M41.9,918.2V1210.2" fill="none" stroke="#8a8a8a" stroke-width="1.4"/><path d="M41.2,1210.2H352.0" fill="none" stroke="#8c8c8c" stroke-width="1.8"/><path d="M39.3,1200.0H41.9M39.3,1162.2H41.9M39.3,1124.4H41.9M39.3,1086.7H41.9M39.3,1048.9H41.9M39.3,1011.1H41.9M39.3,973.4H41.9M39.3,935.6H41.9M76.4,1210.2v2.6M143.6,1210.2v2.6M210.7,1210.2v2.6M277.9,1210.2v2.6M345.0,1210.2v2.6" stroke="#444" stroke-width="0.9"/><g font-family="Liberation Sans" font-size="100" fill="#525252" stroke="#525252" stroke-width="1"><text transform="translate(32.15,1201.95) scale(0.0518,0.0563)">25</text><text transform="translate(32.15,1164.19) scale(0.0518,0.0563)">30</text><text transform="translate(32.15,1126.42) scale(0.0518,0.0563)">35</text><text transform="translate(32.15,1088.66) scale(0.0518,0.0563)">40</text><text transform="translate(32.15,1050.89) scale(0.0518,0.0563)">45</text><text transform="translate(32.15,1013.13) scale(0.0518,0.0563)">50</text><text transform="translate(32.15,975.37) scale(0.0518,0.0563)">55</text><text transform="translate(32.15,937.60) scale(0.0518,0.0563)">60</text><text transform="translate(73.50,1218.00) scale(0.0518,0.0563)">20</text><text transform="translate(140.73,1218.00) scale(0.0518,0.0563)">40</text><text transform="translate(207.80,1218.00) scale(0.0518,0.0563)">60</text><text transform="translate(274.97,1218.00) scale(0.0518,0.0563)">80</text><text transform="translate(340.57,1218.00) scale(0.0518,0.0563)">100</text></g><text transform="translate(23.05,1167.18) rotate(-90) scale(0.1895,0.1935)" font-family="Liberation Sans" font-size="100" fill="#000" stroke="#000" stroke-width="0.000">The score of the SF-8 mental</text><text transform="translate(100.88,1238.40) scale(0.1841,0.1899)" font-family="Liberation Sans" font-size="100" fill="#000" stroke="#000" stroke-width="0.535">The score of the J-RS</text><text transform="translate(286.51,1159.40) scale(0.2165,0.2070)" font-family="Liberation Sans" font-size="100" fill="#000" stroke="#000" stroke-width="1.180">r = 0.52</text><text transform="translate(286.53,1187.60) scale(0.2132,0.2014)" font-family="Liberation Sans" font-size="100" fill="#000" stroke="#000" stroke-width="1.206">p &lt; 0.01</text><text transform="translate(1.69,1209.84) scale(0.2009,0.2170)" font-family="Liberation Sans" font-size="100" fill="#000" stroke="#000" stroke-width="1.436">(<tspan font-family="Liberation Serif" font-size="100">g</tspan>)</text></g><g id="ph"><g fill="#000"><circle cx="464.4" cy="936.4" r="1.5"/><circle cx="517.8" cy="944.1" r="1.5"/><circle cx="549.5" cy="946.4" r="1.5"/><circle cx="596.3" cy="945.2" r="1.5"/><circle cx="583.4" cy="953.1" r="1.5"/><circle cx="583.4" cy="954.5" r="1.5"/><circle cx="596.3" cy="959.3" r="1.5"/><circle cx="577.6" cy="964.5" r="1.5"/><circle cx="590.5" cy="966.1" r="1.5"/><circle cx="586.9" cy="970.3" r="1.5"/><circle cx="577.6" cy="971.1" r="1.5"/><circle cx="580.7" cy="972.8" r="1.5"/><circle cx="568.2" cy="972.0" r="1.5"/><circle cx="565.1" cy="974.9" r="1.5"/><circle cx="562.0" cy="978.0" r="1.5"/><circle cx="562.0" cy="980.7" r="1.5"/><circle cx="574.1" cy="977.4" r="1.5"/><circle cx="596.3" cy="972.4" r="1.5"/><circle cx="530.4" cy="973.6" r="1.5"/><circle cx="549.5" cy="984.4" r="1.5"/><circle cx="536.7" cy="988.6" r="1.5"/><circle cx="539.8" cy="995.6" r="1.5"/><circle cx="542.9" cy="1006.0" r="1.5"/><circle cx="539.8" cy="1010.6" r="1.5"/><circle cx="514.6" cy="1013.5" r="1.5"/><circle cx="571.4" cy="988.4" r="1.5"/><circle cx="571.4" cy="991.1" r="1.5"/><circle cx="574.5" cy="988.4" r="1.5"/><circle cx="574.5" cy="991.1" r="1.5"/><circle cx="580.7" cy="990.7" r="1.5"/><circle cx="586.9" cy="991.1" r="1.5"/><circle cx="590.5" cy="983.6" r="1.5"/><circle cx="590.5" cy="992.5" r="1.5"/><circle cx="593.2" cy="991.1" r="1.5"/><circle cx="593.2" cy="995.6" r="1.5"/><circle cx="593.2" cy="997.3" r="1.5"/><circle cx="596.3" cy="986.3" r="1.5"/><circle cx="596.3" cy="990.7" r="1.5"/><circle cx="599.4" cy="985.3" r="1.5"/><circle cx="599.4" cy="991.9" r="1.5"/><circle cx="580.7" cy="999.4" r="1.5"/><circle cx="577.6" cy="1005.2" r="1.5"/><circle cx="593.2" cy="1006.5" r="1.5"/><circle cx="596.3" cy="1000.8" r="1.5"/><circle cx="599.4" cy="1004.0" r="1.5"/><circle cx="568.2" cy="1014.8" r="1.5"/><circle cx="577.6" cy="1014.8" r="1.5"/><circle cx="571.4" cy="1019.8" r="1.5"/><circle cx="693.9" cy="940.0" r="1.5"/><circle cx="637.4" cy="944.9" r="1.5"/><circle cx="605.6" cy="952.6" r="1.5"/><circle cx="637.4" cy="952.4" r="1.5"/><circle cx="674.8" cy="952.0" r="1.5"/><circle cx="612.3" cy="957.8" r="1.5"/><circle cx="637.4" cy="957.8" r="1.5"/><circle cx="640.7" cy="957.8" r="1.5"/><circle cx="633.9" cy="960.7" r="1.5"/><circle cx="649.9" cy="959.3" r="1.5"/><circle cx="668.6" cy="959.3" r="1.5"/><circle cx="672.1" cy="963.6" r="1.5"/><circle cx="608.9" cy="965.9" r="1.5"/><circle cx="602.5" cy="972.0" r="1.5"/><circle cx="605.6" cy="972.8" r="1.5"/><circle cx="608.9" cy="970.7" r="1.5"/><circle cx="612.3" cy="971.1" r="1.5"/><circle cx="615.6" cy="972.4" r="1.5"/><circle cx="608.9" cy="975.7" r="1.5"/><circle cx="615.6" cy="978.0" r="1.5"/><circle cx="615.6" cy="979.6" r="1.5"/><circle cx="621.8" cy="976.9" r="1.5"/><circle cx="637.4" cy="971.1" r="1.5"/><circle cx="649.9" cy="972.8" r="1.5"/><circle cx="653.4" cy="971.1" r="1.5"/><circle cx="656.1" cy="973.6" r="1.5"/><circle cx="665.5" cy="971.1" r="1.5"/><circle cx="665.5" cy="972.8" r="1.5"/><circle cx="672.1" cy="971.1" r="1.5"/><circle cx="674.8" cy="975.3" r="1.5"/><circle cx="681.5" cy="969.1" r="1.5"/><circle cx="681.5" cy="975.3" r="1.5"/><circle cx="668.6" cy="977.4" r="1.5"/><circle cx="696.6" cy="972.8" r="1.5"/><circle cx="709.7" cy="972.8" r="1.5"/><circle cx="703.5" cy="979.0" r="1.5"/><circle cx="605.6" cy="981.1" r="1.5"/><circle cx="621.8" cy="982.4" r="1.5"/><circle cx="627.6" cy="982.4" r="1.5"/><circle cx="631.2" cy="980.7" r="1.5"/><circle cx="615.6" cy="984.4" r="1.5"/><circle cx="608.9" cy="988.4" r="1.5"/><circle cx="605.6" cy="991.1" r="1.5"/><circle cx="600.0" cy="991.9" r="1.5"/><circle cx="600.0" cy="985.3" r="1.5"/><circle cx="674.8" cy="984.4" r="1.5"/><circle cx="624.5" cy="990.7" r="1.5"/><circle cx="627.6" cy="992.5" r="1.5"/><circle cx="631.2" cy="990.7" r="1.5"/><circle cx="627.6" cy="997.1" r="1.5"/><circle cx="659.2" cy="992.7" r="1.5"/><circle cx="640.5" cy="996.1" r="1.5"/><circle cx="646.8" cy="996.7" r="1.5"/><circle cx="653.4" cy="998.6" r="1.5"/><circle cx="681.5" cy="991.1" r="1.5"/><circle cx="703.5" cy="991.1" r="1.5"/><circle cx="684.2" cy="997.1" r="1.5"/><circle cx="687.7" cy="997.1" r="1.5"/><circle cx="612.3" cy="1000.2" r="1.5"/><circle cx="618.7" cy="999.8" r="1.5"/><circle cx="637.4" cy="1002.9" r="1.5"/><circle cx="646.8" cy="1003.1" r="1.5"/><circle cx="600.0" cy="1003.5" r="1.5"/><circle cx="605.6" cy="1004.0" r="1.5"/><circle cx="608.9" cy="1006.0" r="1.5"/><circle cx="612.3" cy="1006.5" r="1.5"/><circle cx="615.6" cy="1006.5" r="1.5"/><circle cx="624.5" cy="1004.0" r="1.5"/><circle cx="627.6" cy="1006.0" r="1.5"/><circle cx="633.9" cy="1007.1" r="1.5"/><circle cx="653.4" cy="1007.7" r="1.5"/><circle cx="659.2" cy="1007.3" r="1.5"/><circle cx="662.3" cy="1004.0" r="1.5"/><circle cx="668.6" cy="1005.6" r="1.5"/><circle cx="677.9" cy="1005.6" r="1.5"/><circle cx="687.7" cy="1004.4" r="1.5"/><circle cx="662.3" cy="1010.6" r="1.5"/><circle cx="618.7" cy="1010.2" r="1.5"/><circle cx="631.2" cy="1012.7" r="1.5"/><circle cx="612.3" cy="1015.4" r="1.5"/><circle cx="605.6" cy="1017.7" r="1.5"/><circle cx="633.9" cy="1018.9" r="1.5"/><circle cx="504.9" cy="1021.7" r="1.5"/><circle cx="517.8" cy="1025.6" r="1.5"/><circle cx="527.1" cy="1028.9" r="1.5"/><circle cx="558.9" cy="1026.6" r="1.5"/><circle cx="558.9" cy="1031.8" r="1.5"/><circle cx="508.6" cy="1036.0" r="1.5"/><circle cx="502.0" cy="1038.3" r="1.5"/><circle cx="517.8" cy="1049.3" r="1.5"/><circle cx="542.7" cy="1050.1" r="1.5"/><circle cx="539.8" cy="1060.9" r="1.5"/><circle cx="555.4" cy="1061.6" r="1.5"/><circle cx="552.0" cy="1070.3" r="1.5"/><circle cx="568.2" cy="1041.8" r="1.5"/><circle cx="568.2" cy="1045.4" r="1.5"/><circle cx="571.4" cy="1048.1" r="1.5"/><circle cx="574.5" cy="1044.5" r="1.5"/><circle cx="568.2" cy="1051.2" r="1.5"/><circle cx="577.6" cy="1036.2" r="1.5"/><circle cx="583.8" cy="1043.3" r="1.5"/><circle cx="586.9" cy="1050.5" r="1.5"/><circle cx="593.2" cy="1051.8" r="1.5"/><circle cx="596.3" cy="1036.6" r="1.5"/><circle cx="571.4" cy="1057.8" r="1.5"/><circle cx="574.5" cy="1060.9" r="1.5"/><circle cx="577.6" cy="1058.6" r="1.5"/><circle cx="586.9" cy="1023.1" r="1.5"/><circle cx="586.9" cy="1028.7" r="1.5"/><circle cx="583.8" cy="1021.7" r="1.5"/><circle cx="562.0" cy="1086.5" r="1.5"/><circle cx="565.1" cy="1087.5" r="1.5"/><circle cx="552.0" cy="1091.5" r="1.5"/><circle cx="549.5" cy="1102.3" r="1.5"/><circle cx="524.0" cy="1105.8" r="1.5"/><circle cx="583.8" cy="1099.8" r="1.5"/><circle cx="615.0" cy="1021.7" r="1.5"/><circle cx="621.8" cy="1022.1" r="1.5"/><circle cx="628.1" cy="1024.6" r="1.5"/><circle cx="631.2" cy="1022.5" r="1.5"/><circle cx="633.9" cy="1021.0" r="1.5"/><circle cx="640.5" cy="1024.6" r="1.5"/><circle cx="646.8" cy="1024.6" r="1.5"/><circle cx="653.4" cy="1025.6" r="1.5"/><circle cx="656.1" cy="1024.6" r="1.5"/><circle cx="662.3" cy="1026.2" r="1.5"/><circle cx="612.3" cy="1025.6" r="1.5"/><circle cx="615.0" cy="1028.9" r="1.5"/><circle cx="628.1" cy="1027.9" r="1.5"/><circle cx="631.2" cy="1029.4" r="1.5"/><circle cx="653.4" cy="1028.9" r="1.5"/><circle cx="656.1" cy="1030.0" r="1.5"/><circle cx="662.3" cy="1034.1" r="1.5"/><circle cx="662.3" cy="1037.7" r="1.5"/><circle cx="656.1" cy="1037.0" r="1.5"/><circle cx="608.9" cy="1038.1" r="1.5"/><circle cx="618.7" cy="1041.4" r="1.5"/><circle cx="628.1" cy="1036.0" r="1.5"/><circle cx="628.1" cy="1041.4" r="1.5"/><circle cx="643.2" cy="1044.1" r="1.5"/><circle cx="672.1" cy="1040.2" r="1.5"/><circle cx="684.2" cy="1039.3" r="1.5"/><circle cx="608.9" cy="1046.0" r="1.5"/><circle cx="612.3" cy="1047.6" r="1.5"/><circle cx="618.7" cy="1049.5" r="1.5"/><circle cx="631.2" cy="1046.0" r="1.5"/><circle cx="631.2" cy="1048.7" r="1.5"/><circle cx="656.1" cy="1046.6" r="1.5"/><circle cx="649.9" cy="1051.6" r="1.5"/><circle cx="677.9" cy="1051.2" r="1.5"/><circle cx="687.7" cy="1047.0" r="1.5"/><circle cx="615.0" cy="1053.7" r="1.5"/><circle cx="624.5" cy="1052.8" r="1.5"/><circle cx="602.5" cy="1058.4" r="1.5"/><circle cx="615.0" cy="1058.9" r="1.5"/><circle cx="659.2" cy="1059.9" r="1.5"/><circle cx="631.2" cy="1063.2" r="1.5"/><circle cx="628.1" cy="1066.3" r="1.5"/><circle cx="633.9" cy="1066.3" r="1.5"/><circle cx="615.0" cy="1070.7" r="1.5"/><circle cx="624.5" cy="1071.5" r="1.5"/><circle cx="628.1" cy="1077.4" r="1.5"/><circle cx="612.3" cy="1079.6" r="1.5"/><circle cx="605.6" cy="1082.8" r="1.5"/><circle cx="646.8" cy="1085.2" r="1.5"/><circle cx="662.3" cy="1087.5" r="1.5"/><circle cx="674.8" cy="1085.9" r="1.5"/><circle cx="728.4" cy="1075.5" r="1.5"/><circle cx="618.7" cy="1092.3" r="1.5"/><circle cx="637.0" cy="1095.2" r="1.5"/><circle cx="615.0" cy="1100.6" r="1.5"/><circle cx="602.5" cy="1104.8" r="1.5"/><circle cx="552.0" cy="1123.3" r="1.5"/><circle cx="524.0" cy="1162.0" r="1.5"/><circle cx="574.1" cy="1170.7" r="1.5"/><circle cx="633.9" cy="1131.6" r="1.5"/><circle cx="649.9" cy="1129.5" r="1.5"/><circle cx="677.9" cy="1126.4" r="1.5"/><circle cx="624.5" cy="1168.0" r="1.5"/><circle cx="640.5" cy="1192.3" r="1.5"/><circle cx="656.1" cy="1195.0" r="1.5"/></g><polygon points="464.1,1005.4 468.5,1005.7 472.9,1006.0 477.3,1006.3 481.7,1006.6 486.1,1006.8 490.5,1007.1 494.9,1007.4 499.3,1007.7 503.7,1008.0 508.1,1008.3 512.5,1008.5 516.9,1008.8 521.3,1009.1 525.7,1009.3 530.0,1009.6 534.4,1009.8 538.8,1010.1 543.2,1010.3 547.6,1010.6 552.0,1010.8 556.4,1011.0 560.8,1011.2 565.2,1011.4 569.6,1011.5 574.0,1011.7 578.4,1011.8 582.8,1011.9 587.2,1011.9 591.6,1012.0 596.0,1011.9 600.4,1011.8 604.8,1011.7 609.2,1011.5 613.6,1011.3 618.0,1010.9 622.4,1010.5 626.8,1010.1 631.2,1009.6 635.6,1009.1 640.0,1008.5 644.4,1007.8 648.8,1007.2 653.2,1006.5 657.6,1005.8 662.0,1005.0 666.3,1004.3 670.7,1003.5 675.1,1002.8 679.5,1002.0 683.9,1001.2 688.3,1000.4 692.7,999.6 697.1,998.8 701.5,998.0 705.9,997.1 710.3,996.3 714.7,995.5 719.1,994.7 723.5,993.8 727.9,993.0 727.9,1026.0 723.5,1025.7 719.1,1025.5 714.7,1025.2 710.3,1024.9 705.9,1024.6 701.5,1024.4 697.1,1024.1 692.7,1023.9 688.3,1023.6 683.9,1023.4 679.5,1023.1 675.1,1022.9 670.7,1022.7 666.3,1022.5 662.0,1022.3 657.6,1022.1 653.2,1022.0 648.8,1021.8 644.4,1021.7 640.0,1021.7 635.6,1021.6 631.2,1021.6 626.8,1021.7 622.4,1021.8 618.0,1022.0 613.6,1022.2 609.2,1022.5 604.8,1022.9 600.4,1023.3 596.0,1023.8 591.6,1024.3 587.2,1024.9 582.8,1025.5 578.4,1026.1 574.0,1026.8 569.6,1027.5 565.2,1028.2 560.8,1029.0 556.4,1029.7 552.0,1030.5 547.6,1031.3 543.2,1032.1 538.8,1032.8 534.4,1033.7 530.0,1034.5 525.7,1035.3 521.3,1036.1 516.9,1036.9 512.5,1037.7 508.1,1038.6 503.7,1039.4 499.3,1040.2 494.9,1041.1 490.5,1041.9 486.1,1042.8 481.7,1043.6 477.3,1044.5 472.9,1045.3 468.5,1046.2 464.1,1047.0" fill="#999" fill-opacity="0.4"/><line x1="464.1" y1="1026.2" x2="727.9" y2="1009.5" stroke="#f00" stroke-width="1.1"/><path d="M451.4,918.1V1209.2" fill="none" stroke="#8a8a8a" stroke-width="1.4"/><path d="M450.7,1209.2H741.4" fill="none" stroke="#8a8a8a" stroke-width="1.8"/><path d="M448.8,1188.0H451.4M448.8,1152.5H451.4M448.8,1117.0H451.4M448.8,1081.5H451.4M448.8,1046.0H451.4M448.8,1010.5H451.4M448.8,975.0H451.4M448.8,939.5H451.4M483.4,1209.2v2.6M546.1,1209.2v2.6M608.9,1209.2v2.6M671.6,1209.2v2.6M734.4,1209.2v2.6" stroke="#444" stroke-width="0.9"/><g font-family="Liberation Sans" font-size="100" fill="#525252" stroke="#525252" stroke-width="1"><text transform="translate(442.08,1190.10) scale(0.0544,0.0592)">25</text><text transform="translate(442.08,1154.60) scale(0.0544,0.0592)">30</text><text transform="translate(442.08,1119.10) scale(0.0544,0.0592)">35</text><text transform="translate(442.08,1083.60) scale(0.0544,0.0592)">40</text><text transform="translate(442.08,1048.10) scale(0.0544,0.0592)">45</text><text transform="translate(442.08,1012.60) scale(0.0544,0.0592)">50</text><text transform="translate(442.08,977.10) scale(0.0544,0.0592)">55</text><text transform="translate(442.08,941.60) scale(0.0544,0.0592)">60</text><text transform="translate(480.50,1217.40) scale(0.0518,0.0563)">20</text><text transform="translate(543.33,1217.40) scale(0.0518,0.0563)">40</text><text transform="translate(606.00,1217.40) scale(0.0518,0.0563)">60</text><text transform="translate(668.77,1217.40) scale(0.0518,0.0563)">80</text><text transform="translate(729.97,1217.40) scale(0.0518,0.0563)">100</text></g><text transform="translate(431.70,1164.17) rotate(-90) scale(0.1872,0.1986)" font-family="Liberation Sans" font-size="100" fill="#000" stroke="#000" stroke-width="0.000">The score of the SF-8 physical</text><text transform="translate(502.68,1238.40) scale(0.1835,0.1899)" font-family="Liberation Sans" font-size="100" fill="#000" stroke="#000" stroke-width="0.536">The score of the J-RS</text><text transform="translate(690.41,1160.70) scale(0.2165,0.2070)" font-family="Liberation Sans" font-size="100" fill="#000" stroke="#000" stroke-width="1.180">r = 0.06</text><text transform="translate(690.44,1188.90) scale(0.2118,0.2014)" font-family="Liberation Sans" font-size="100" fill="#000" stroke="#000" stroke-width="1.210">p = 0.36</text><text transform="translate(412.71,1209.84) scale(0.2155,0.2170)" font-family="Liberation Sans" font-size="100" fill="#000" stroke="#000" stroke-width="1.387">(h)</text></g>
</svg></body></html>
